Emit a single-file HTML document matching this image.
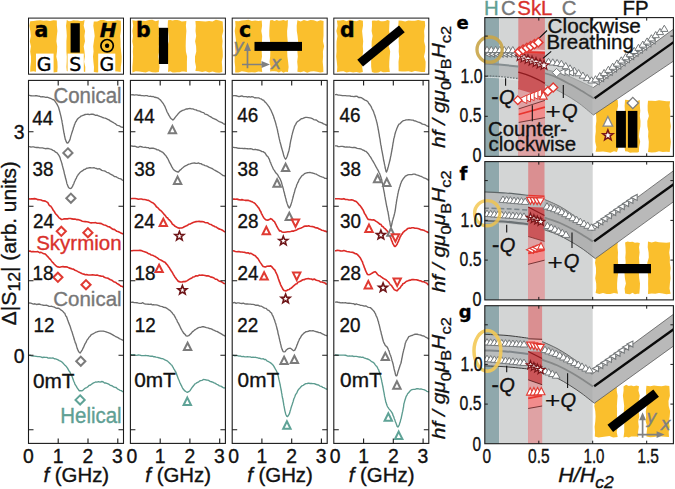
<!DOCTYPE html>
<html><head><meta charset="utf-8"><title>figure</title>
<style>html,body{margin:0;padding:0;background:#fff}svg{display:block}</style></head>
<body><svg width="675" height="489" viewBox="0 0 675 489">
<rect width="675" height="489" fill="#fff"/>
<path d="M30.2 21.2L33.5 21.1L36.9 20.5L40.2 20.2L43.5 20.7L46.8 20.5L50.1 21.1L53.5 20.3L56.8 20.6L56.9 25.7L57.4 30.9L56.8 36.0L56.4 41.2L57.2 46.3L57.0 51.4L56.3 56.6L57.4 61.7L57.6 66.9L57.3 72.0L53.5 72.6L50.1 71.6L46.8 72.3L43.5 72.6L40.2 72.3L36.8 71.9L33.5 71.3L30.2 71.8L30.4 66.9L31.0 61.7L31.0 56.6L30.2 51.4L30.9 46.3L29.8 41.2L30.8 36.0L30.3 30.9L29.4 25.7Z" fill="#fabf2d"/>
<path d="M66.8 20.0L69.0 21.2L71.2 21.1L73.5 20.2L75.7 20.6L77.9 20.6L80.1 20.9L82.4 21.1L84.6 20.0L83.7 25.7L85.1 30.9L84.4 36.0L85.0 41.2L83.7 46.3L84.5 51.4L84.9 56.6L84.1 61.7L85.3 66.9L85.2 72.0L82.4 71.2L80.1 71.1L77.9 72.0L75.7 72.7L73.5 71.7L71.2 71.5L69.0 71.8L66.8 71.1L66.4 66.9L66.7 61.7L66.8 56.6L66.4 51.4L66.4 46.3L66.4 41.2L66.8 36.0L66.5 30.9L66.0 25.7Z" fill="#fabf2d"/>
<path d="M93.8 21.4L97.2 21.4L100.5 19.9L103.9 19.9L107.3 21.2L110.7 21.1L114.0 20.9L117.4 20.3L120.8 20.8L120.9 25.7L120.9 30.9L120.2 36.0L120.6 41.2L120.6 46.3L121.1 51.4L121.6 56.6L121.5 61.7L120.8 66.9L120.7 72.0L117.4 71.6L114.0 71.2L110.7 71.1L107.3 71.9L103.9 71.6L100.5 71.7L97.2 72.6L93.8 72.0L94.0 66.9L93.4 61.7L93.0 56.6L93.6 51.4L93.2 46.3L93.9 41.2L94.7 36.0L94.1 30.9L93.3 25.7Z" fill="#fabf2d"/>
<path d="M132.4 20.2L135.7 20.7L139.0 20.4L142.3 20.8L145.7 20.9L149.0 19.9L152.3 19.8L155.6 21.2L158.9 20.2L158.4 25.7L159.7 30.9L158.8 36.0L159.4 41.2L158.8 46.3L159.1 51.4L158.3 56.6L159.1 61.7L159.5 66.9L158.9 72.0L155.6 72.4L152.3 72.2L149.0 71.2L145.7 72.4L142.3 72.1L139.0 71.6L135.7 71.2L132.4 72.6L132.4 66.9L132.8 61.7L133.1 56.6L132.8 51.4L133.2 46.3L132.3 41.2L133.0 36.0L132.4 30.9L133.2 25.7Z" fill="#fabf2d"/>
<path d="M168.0 20.2L170.3 20.0L172.6 20.5L174.9 20.1L177.2 19.9L179.5 20.5L181.8 21.4L184.1 21.2L186.4 21.1L185.9 25.7L186.4 30.9L186.0 36.0L185.8 41.2L185.7 46.3L185.9 51.4L187.1 56.6L186.9 61.7L186.9 66.9L186.9 72.0L184.1 71.4L181.8 71.6L179.5 72.2L177.2 72.3L174.9 72.6L172.6 72.6L170.3 71.2L168.0 72.1L168.3 66.9L168.1 61.7L167.5 56.6L168.0 51.4L167.4 46.3L168.8 41.2L168.7 36.0L168.1 30.9L167.7 25.7Z" fill="#fabf2d"/>
<path d="M195.4 20.9L198.8 21.1L202.2 21.2L205.6 21.4L209.1 21.1L212.5 21.4L215.9 19.8L219.3 20.6L222.7 21.4L222.9 25.7L223.3 30.9L222.0 36.0L222.6 41.2L222.2 46.3L222.7 51.4L222.8 56.6L221.8 61.7L222.2 66.9L222.3 72.0L219.3 72.7L215.9 72.4L212.5 71.4L209.1 72.5L205.6 71.3L202.2 72.1L198.8 71.3L195.4 71.1L196.1 66.9L195.0 61.7L195.0 56.6L196.3 51.4L196.1 46.3L195.1 41.2L196.2 36.0L195.5 30.9L195.8 25.7Z" fill="#fabf2d"/>
<path d="M235.2 21.1L238.5 21.2L241.8 20.6L245.1 20.2L248.4 19.8L251.8 20.9L255.1 20.6L258.4 21.1L261.7 20.4L262.1 25.7L261.3 30.9L262.2 36.0L262.0 41.2L261.5 46.3L261.7 51.4L262.0 56.6L261.1 61.7L261.7 66.9L262.2 72.0L258.4 71.6L255.1 72.5L251.8 72.3L248.4 72.5L245.1 71.7L241.8 71.3L238.5 72.5L235.2 72.5L235.2 66.9L234.6 61.7L234.7 56.6L235.5 51.4L234.9 46.3L236.0 41.2L235.4 36.0L234.7 30.9L235.5 25.7Z" fill="#fabf2d"/>
<path d="M270.0 20.4L272.2 20.1L274.5 20.9L276.7 19.9L278.9 20.7L281.2 20.4L283.4 19.9L285.7 20.7L287.9 19.9L287.7 25.7L287.1 30.9L287.2 36.0L287.7 41.2L288.4 46.3L287.2 51.4L287.4 56.6L288.1 61.7L288.6 66.9L288.0 72.0L285.7 71.8L283.4 72.8L281.2 71.2L278.9 72.6L276.7 71.6L274.5 71.3L272.2 71.3L270.0 71.6L270.6 66.9L269.5 61.7L270.2 56.6L270.3 51.4L269.8 46.3L270.1 41.2L269.3 36.0L269.3 30.9L269.6 25.7Z" fill="#fabf2d"/>
<path d="M297.4 20.2L300.7 21.4L303.9 20.0L307.2 21.0L310.5 19.9L313.8 20.2L317.1 21.5L320.3 20.2L323.6 20.9L323.5 25.7L323.5 30.9L323.5 36.0L323.0 41.2L324.1 46.3L322.9 51.4L323.1 56.6L322.7 61.7L323.2 66.9L323.4 72.0L320.3 72.6L317.1 71.7L313.8 71.3L310.5 71.5L307.2 72.8L303.9 71.2L300.7 72.2L297.4 71.7L297.7 66.9L297.2 61.7L297.8 56.6L297.4 51.4L297.7 46.3L298.1 41.2L297.6 36.0L296.8 30.9L296.7 25.7Z" fill="#fabf2d"/>
<path d="M336.9 20.6L340.1 20.4L343.4 20.0L346.6 21.3L349.9 19.8L353.1 20.7L356.4 21.3L359.6 19.9L362.9 20.7L363.0 25.7L362.1 30.9L362.6 36.0L363.2 41.2L362.8 46.3L363.2 51.4L362.3 56.6L362.4 61.7L362.2 66.9L362.9 72.0L359.6 72.7L356.4 72.1L353.1 72.4L349.9 71.8L346.6 72.4L343.4 71.3L340.1 71.6L336.9 72.2L337.3 66.9L336.8 61.7L336.2 56.6L336.6 51.4L336.5 46.3L336.6 41.2L337.5 36.0L336.4 30.9L337.6 25.7Z" fill="#fabf2d"/>
<path d="M371.9 20.8L374.1 20.5L376.3 20.8L378.5 20.2L380.8 21.2L383.0 21.2L385.2 20.9L387.4 20.1L389.6 20.7L389.3 25.7L389.1 30.9L390.3 36.0L390.4 41.2L388.8 46.3L390.2 51.4L389.7 56.6L389.3 61.7L389.2 66.9L389.8 72.0L387.4 71.9L385.2 72.3L383.0 72.2L380.8 71.3L378.5 72.4L376.3 72.8L374.1 72.7L371.9 72.1L371.2 66.9L371.1 61.7L371.3 56.6L372.7 51.4L371.6 46.3L371.7 41.2L372.6 36.0L371.6 30.9L372.0 25.7Z" fill="#fabf2d"/>
<path d="M398.6 20.6L401.9 20.8L405.2 21.4L408.4 20.6L411.7 20.7L415.0 20.8L418.2 20.1L421.5 20.7L424.8 20.9L425.2 25.7L424.1 30.9L424.4 36.0L424.1 41.2L425.3 46.3L425.1 51.4L424.0 56.6L425.6 61.7L425.5 66.9L425.0 72.0L421.5 72.1L418.2 71.4L415.0 71.1L411.7 72.0L408.4 71.2L405.2 71.4L401.9 71.5L398.6 71.2L398.6 66.9L398.5 61.7L399.2 56.6L398.7 51.4L398.9 46.3L398.6 41.2L398.9 36.0L398.6 30.9L398.3 25.7Z" fill="#fabf2d"/>
<rect x="70.6" y="23.2" width="9.2" height="29.4" fill="#000"/>
<rect x="36.0" y="53.6" width="17.6" height="20" fill="#fff"/>
<rect x="67.6" y="53.6" width="16.2" height="20" fill="#fff"/>
<rect x="98.2" y="53.6" width="17.1" height="20" fill="#fff"/>
<rect x="158.9" y="27.8" width="9.2" height="36.2" fill="#000"/>
<rect x="254.5" y="41.9" width="47.5" height="9" fill="#000"/>
<rect x="354" y="41.5" width="54" height="9" fill="#000" transform="rotate(-39.4 381 46)"/>
<text x="34.6" y="36.6" style="font-family:'DejaVu Sans',sans-serif;font-size:20.5px;font-weight:bold" fill="#000" stroke="#000" stroke-width="0.35">a</text>
<text x="136.0" y="36.6" style="font-family:'DejaVu Sans',sans-serif;font-size:20.5px;font-weight:bold" fill="#000" stroke="#000" stroke-width="0.35">b</text>
<text x="239.0" y="36.6" style="font-family:'DejaVu Sans',sans-serif;font-size:20.5px;font-weight:bold" fill="#000" stroke="#000" stroke-width="0.35">c</text>
<text x="340.0" y="36.6" style="font-family:'DejaVu Sans',sans-serif;font-size:20.5px;font-weight:bold" fill="#000" stroke="#000" stroke-width="0.35">d</text>
<text x="44.0" y="70.8" text-anchor="middle" style="font-family:'DejaVu Sans',sans-serif;font-size:19px" fill="#000" stroke="#000" stroke-width="0.35">G</text>
<text x="75.2" y="70.8" text-anchor="middle" style="font-family:'DejaVu Sans',sans-serif;font-size:19px" fill="#000" stroke="#000" stroke-width="0.35">S</text>
<text x="106.8" y="70.8" text-anchor="middle" style="font-family:'DejaVu Sans',sans-serif;font-size:19px" fill="#000" stroke="#000" stroke-width="0.35">G</text>
<text x="108.2" y="37" text-anchor="middle" style="font-family:'DejaVu Sans',sans-serif;font-size:20px;font-weight:bold;font-style:italic" fill="#000" stroke="#000" stroke-width="0.35">H</text>
<circle cx="107.1" cy="45.7" r="6.2" fill="none" stroke="#000" stroke-width="1.7"/><circle cx="107.1" cy="45.7" r="2.2" fill="#000"/>
<path d="M247.5 68.2V49M242 64.5H262" stroke="#808080" stroke-width="1.7" fill="none"/>
<path d="M247.5 42.6L251 51H244ZM270 64.5L261.5 61V68Z" fill="#808080"/>
<text x="233.6" y="52.3" style="font-family:'DejaVu Sans',sans-serif;font-size:18px;font-style:italic" fill="#808080" stroke="#808080" stroke-width="0.35">y</text>
<text x="270.8" y="69.2" style="font-family:'DejaVu Sans',sans-serif;font-size:18px;font-style:italic" fill="#808080" stroke="#808080" stroke-width="0.35">x</text>
<rect x="28.5" y="18.1" width="95.0" height="56.1" fill="none" stroke="#1a1a1a" stroke-width="1"/>
<rect x="130.4" y="18.1" width="95.0" height="56.1" fill="none" stroke="#1a1a1a" stroke-width="1"/>
<rect x="232.2" y="18.1" width="95.0" height="56.1" fill="none" stroke="#1a1a1a" stroke-width="1"/>
<rect x="333.8" y="18.1" width="95.0" height="56.1" fill="none" stroke="#1a1a1a" stroke-width="1"/>
<g fill="none" stroke-width="1.35" stroke-linejoin="round">
<path d="M29.0 95.30L29.8 95.46L30.9 95.78L32.2 95.81L33.6 95.88L35.1 95.77L36.6 95.56L38.1 96.12L39.6 96.25L40.8 96.92L42.5 96.70L44.1 96.92L45.7 97.35L47.1 97.20L48.5 97.55L49.7 98.07L51.3 98.73L52.6 99.49L53.8 99.72L54.9 100.96L55.7 102.37L56.5 103.42L57.2 104.65L57.9 105.98L58.6 107.53L59.0 108.98L59.3 110.03L59.7 111.49L60.0 112.58L60.3 113.87L60.7 115.39L61.0 116.72L61.3 117.99L61.6 119.73L61.9 120.36L62.1 122.42L62.4 123.60L62.6 125.21L62.9 126.50L63.1 127.79L63.3 129.24L63.6 130.79L63.8 132.03L64.0 133.26L64.2 133.91L64.6 136.00L65.0 137.82L65.3 139.33L65.7 140.13L66.0 141.16L66.9 142.85L67.8 143.05L68.7 142.04L69.7 140.18L70.1 138.97L70.5 137.31L70.9 135.89L71.4 134.39L71.9 132.66L72.3 131.50L72.7 130.30L73.1 129.24L73.5 127.33L74.0 126.59L74.4 124.89L74.9 123.85L75.6 122.04L76.3 121.26L77.0 119.79L77.8 118.78L78.6 118.05L79.7 117.25L81.0 116.13L82.3 115.72L83.8 115.02L85.1 114.50L86.5 114.32L88.0 114.24L89.6 114.55L91.2 114.10L92.6 114.22L94.0 114.46L95.5 115.36L97.0 115.07L98.5 115.78L100.0 116.43L101.3 116.87L102.6 117.50L103.8 117.90L105.1 118.19L106.4 118.71L107.7 119.29L109.0 119.91L110.3 120.87L111.7 121.67L113.0 122.27L114.4 123.25L115.6 123.91L116.8 125.08L117.9 125.46L119.6 125.94L121.0 126.89L122.2 127.23L123.0 127.48" stroke="#6e6e6e"/>
<path d="M29.0 146.70L29.8 146.67L30.9 147.06L32.2 146.86L33.6 146.81L35.1 147.33L36.6 147.50L38.1 147.45L39.6 147.86L40.8 147.86L42.5 147.86L44.1 148.29L45.6 148.72L47.1 148.35L48.4 148.52L49.7 148.97L51.4 149.47L53.0 150.31L54.4 150.98L55.6 152.14L56.7 152.54L57.6 153.62L58.5 154.77L59.3 156.14L59.8 157.05L60.2 158.18L60.6 159.77L61.1 160.94L61.5 162.35L61.9 163.52L62.3 165.23L62.6 166.32L63.0 167.90L63.3 169.00L63.7 170.37L64.0 171.53L64.4 173.67L64.7 174.59L65.0 175.76L65.3 177.03L65.7 178.81L66.1 179.92L66.4 181.17L66.8 183.14L67.1 184.01L67.5 184.96L68.3 187.04L69.2 188.07L70.1 188.49L71.4 188.05L72.7 186.15L73.2 184.71L73.8 183.81L74.4 181.83L75.0 180.70L75.6 179.20L76.3 178.40L76.9 176.59L77.6 175.57L78.4 174.33L79.3 173.44L80.3 172.20L81.5 171.29L82.7 170.66L84.0 169.49L85.3 169.35L86.6 168.23L88.0 168.20L89.5 167.68L91.0 167.78L92.7 167.81L93.9 167.71L95.1 168.10L96.4 168.49L97.8 169.09L99.1 168.64L100.5 169.39L101.8 170.34L103.0 170.63L104.3 170.89L105.6 171.44L106.8 172.28L108.0 172.67L109.2 173.18L110.5 174.24L111.9 174.87L113.1 175.40L114.4 176.56L115.8 176.60L117.3 177.53L118.7 178.30L120.0 178.68L121.2 179.10L122.2 180.10L123.0 180.49" stroke="#6e6e6e"/>
<path d="M29.0 198.70L30.0 198.95L31.4 198.90L33.0 198.84L34.7 198.65L36.4 198.97L37.9 199.65L39.5 199.79L41.1 200.03L42.6 200.72L44.0 200.88L45.3 201.09L46.6 201.91L47.7 202.47L48.7 204.41L49.7 205.67L50.6 205.94L51.5 207.33L52.4 208.60L53.3 210.44L54.1 211.21L55.1 213.00L56.0 214.28L57.0 215.20L57.9 216.30L59.1 217.88L60.2 218.54L61.6 219.51L62.9 219.28L64.3 218.84L65.9 218.73L67.5 218.90L68.9 218.57L70.4 218.54L71.9 218.85L73.4 219.13L74.9 219.09L76.4 219.58L77.9 219.54L79.4 220.09L80.9 220.61L82.3 221.20L83.8 221.43L85.2 221.60L86.7 221.83L88.2 222.04L89.6 222.53L91.1 222.85L92.6 222.68L94.1 222.76L95.6 222.62L97.1 223.24L98.6 223.20L100.0 223.41L101.5 223.65L103.0 224.60L104.2 224.99L105.5 225.20L106.7 225.85L107.9 226.72L109.2 226.72L110.4 227.47L111.7 228.52L113.0 229.35L114.3 229.39L115.6 230.39L116.8 231.23L117.9 231.56L119.5 232.19L120.9 233.10L122.1 233.60L123.0 234.01" stroke="#dc2b27" stroke-width="1.6"/>
<path d="M29.0 251.10L30.0 251.09L31.4 251.70L33.0 251.45L34.7 251.75L36.4 251.79L37.9 251.67L39.5 252.61L41.1 252.40L42.6 253.16L44.0 253.64L45.3 254.09L46.5 255.31L47.5 256.45L48.5 257.38L49.5 258.78L50.4 259.41L51.4 260.87L52.3 262.03L53.2 262.83L54.1 263.98L54.9 264.79L56.4 266.25L57.9 266.89L59.6 267.19L61.6 266.76L62.9 266.62L64.4 266.84L66.0 266.75L67.5 267.13L68.9 267.87L70.4 268.37L71.8 268.85L73.4 269.14L74.6 269.98L75.8 270.60L77.1 271.12L78.4 271.88L79.6 272.31L80.8 273.12L82.3 273.67L83.8 274.11L85.2 274.68L86.7 274.57L88.1 275.04L89.5 275.05L91.0 274.93L92.5 274.68L94.1 274.92L95.5 275.18L97.0 275.03L98.5 275.57L100.1 275.88L101.6 276.19L103.0 276.23L104.3 277.27L105.6 277.69L106.8 277.95L108.0 278.28L109.2 279.02L110.4 279.70L111.7 280.11L113.0 281.16L114.3 281.96L115.6 282.21L116.8 283.42L117.9 284.03L119.5 284.99L120.9 286.17L122.1 286.27L123.0 287.35" stroke="#dc2b27" stroke-width="1.6"/>
<path d="M29.0 303.10L29.8 303.02L30.8 303.14L32.1 303.61L33.4 304.06L34.9 303.78L36.4 304.46L37.9 304.22L39.4 304.03L40.8 304.61L42.1 304.84L43.5 305.28L44.9 305.36L46.3 305.27L47.7 305.70L49.1 306.39L50.4 306.39L51.6 306.29L52.7 306.68L54.2 306.99L55.6 307.92L56.9 308.25L58.0 308.20L59.1 308.47L60.1 309.21L61.2 310.11L62.2 310.71L63.1 311.64L64.0 312.69L64.8 313.34L65.4 314.96L66.0 316.21L66.6 316.82L67.1 318.27L67.6 319.80L68.2 321.33L68.6 322.62L69.1 323.66L69.6 325.12L70.0 325.86L70.5 327.43L71.0 329.12L71.4 330.53L71.9 331.51L72.3 332.90L72.7 334.22L73.2 335.80L73.6 336.90L74.0 338.54L74.5 340.29L74.9 341.05L75.2 342.66L75.6 343.07L76.2 344.76L76.7 346.68L77.2 348.37L77.7 349.59L78.1 350.62L79.1 352.23L80.1 353.04L81.1 351.65L82.3 349.83L82.8 348.66L83.4 347.67L84.0 346.26L84.6 344.78L85.3 343.43L86.0 342.39L86.7 340.76L87.4 339.53L88.2 338.80L89.0 337.24L89.9 336.56L90.8 335.16L91.8 334.43L92.9 333.93L94.1 333.23L95.4 332.47L96.9 331.94L98.5 331.30L100.1 331.11L101.6 331.19L103.1 331.05L104.6 331.45L106.0 331.79L107.5 332.42L109.0 332.98L110.2 333.32L111.5 334.13L112.8 334.87L114.0 335.55L115.2 336.30L116.4 336.90L117.9 337.55L119.4 338.63L120.9 339.25L122.1 339.83L123.0 340.38" stroke="#6e6e6e"/>
<path d="M29.0 355.40L30.0 355.20L31.3 355.92L32.8 356.06L34.5 356.20L36.2 356.42L37.9 356.69L39.3 356.63L40.8 356.87L42.4 357.52L43.9 357.27L45.4 357.40L46.9 357.41L48.2 358.07L49.9 358.04L51.4 358.12L52.9 357.95L54.3 358.73L55.6 358.85L56.9 359.38L58.1 359.92L59.3 360.60L60.5 361.07L61.6 361.81L62.7 362.79L63.7 363.90L64.7 365.03L65.7 365.85L66.7 367.05L67.5 368.12L68.3 369.60L69.0 370.93L69.8 371.75L70.5 373.50L71.2 374.69L71.8 375.74L72.3 377.02L72.9 378.82L73.4 380.28L73.9 381.54L74.4 382.54L74.9 384.02L75.7 385.26L76.5 386.61L77.2 387.88L77.9 388.86L79.3 390.75L80.8 390.55L81.9 390.84L83.2 389.97L84.5 388.65L85.6 387.97L86.7 387.54L87.8 386.85L89.0 385.44L90.2 385.24L91.5 384.19L92.7 383.33L94.1 382.73L95.5 381.97L97.0 382.06L98.5 381.63L100.1 382.08L101.5 381.54L103.0 381.75L104.5 382.98L106.0 383.04L107.5 383.61L108.7 384.15L109.9 385.07L111.2 385.51L112.4 385.99L113.6 386.95L114.9 387.30L116.1 387.50L117.4 388.88L118.7 389.49L120.1 390.31L121.3 390.59L122.3 391.49L123.0 391.61" stroke="#5b9b8f"/>
</g>
<g fill="none" stroke-width="1.35" stroke-linejoin="round">
<path d="M131.0 94.60L131.8 94.82L132.9 94.68L134.1 95.15L135.5 94.80L137.0 94.82L138.5 95.28L140.0 95.26L141.5 95.55L142.8 95.65L144.2 95.91L145.6 95.57L147.0 95.68L148.3 96.12L149.6 96.40L150.9 96.28L152.1 96.62L153.2 96.50L154.8 97.29L156.3 97.53L157.6 97.88L158.8 98.67L159.9 99.48L160.9 100.55L161.9 101.83L162.7 102.83L163.5 103.96L164.3 105.46L165.0 106.62L165.6 108.29L166.2 109.47L166.8 111.22L167.4 112.58L168.0 113.40L168.8 115.17L169.6 116.30L170.3 117.73L171.0 118.43L172.9 120.10L174.0 118.98L175.4 117.18L176.2 116.19L177.1 115.06L178.1 113.82L179.1 112.82L180.2 111.67L181.3 111.22L182.4 110.39L183.6 110.16L184.8 109.62L186.0 109.02L187.2 108.98L188.7 108.62L190.0 108.46L191.4 108.88L192.9 108.95L194.5 109.59L196.1 109.85L197.3 110.64L198.5 110.86L199.8 111.15L201.1 111.98L202.4 112.41L203.7 112.64L205.0 114.10L206.3 114.33L207.5 114.77L208.7 115.75L209.9 116.45L211.2 117.15L212.5 118.01L213.9 118.61L215.1 119.25L216.4 119.68L217.8 120.73L219.3 121.56L220.7 122.09L222.0 122.60L223.2 123.48L224.2 124.09L225.0 124.22" stroke="#6e6e6e"/>
<path d="M131.0 146.20L131.8 145.81L132.9 146.30L134.1 146.24L135.5 146.31L137.0 147.11L138.5 147.23L140.0 146.45L141.5 146.76L142.8 147.16L144.2 147.41L145.6 147.28L146.9 147.70L148.3 147.66L149.6 148.55L150.8 148.26L152.1 148.09L153.2 148.26L154.6 148.58L156.0 149.08L157.2 149.90L158.4 149.85L159.5 150.76L160.6 151.15L161.8 151.96L162.9 152.44L163.9 153.48L164.9 154.72L165.8 155.53L166.6 156.98L167.4 157.98L168.1 159.29L168.8 160.79L169.5 162.41L170.2 163.52L171.0 165.07L171.7 166.60L172.5 167.85L173.2 169.10L174.5 170.45L175.7 171.09L176.9 171.77L178.4 171.97L179.9 170.20L180.9 169.65L181.9 168.44L183.1 167.53L184.3 166.55L185.4 165.82L186.6 165.30L187.8 164.68L189.0 164.19L190.2 163.94L191.6 163.40L193.0 163.05L194.4 163.01L196.1 163.31L197.2 163.37L198.4 162.98L199.7 163.60L201.0 163.65L202.4 164.58L203.7 164.96L205.0 165.56L206.3 165.92L207.5 166.37L208.7 167.07L209.9 167.58L211.2 168.23L212.5 168.75L213.9 169.71L215.1 170.41L216.4 171.14L217.8 171.93L219.3 172.73L220.7 173.81L222.0 174.73L223.2 175.60L224.2 175.65L225.0 176.36" stroke="#6e6e6e"/>
<path d="M131.0 198.70L132.0 198.46L133.4 198.45L135.0 198.49L136.7 198.69L138.4 199.25L139.9 199.03L141.5 199.02L143.0 199.44L144.5 199.57L145.9 199.83L147.3 200.23L148.6 200.41L149.8 201.11L151.0 201.92L152.1 202.57L153.2 203.00L154.4 204.06L155.4 205.21L156.4 206.75L157.6 207.57L158.5 208.56L159.5 209.72L160.5 210.33L161.5 211.29L162.6 212.55L163.6 213.69L164.6 214.86L165.6 216.11L166.6 217.40L167.6 217.84L168.6 219.54L169.5 220.02L170.5 221.36L171.3 222.08L172.2 223.92L173.0 224.55L173.9 225.08L175.1 226.33L176.4 226.90L177.8 227.83L179.1 228.13L180.4 227.93L181.7 227.95L183.0 227.42L184.3 226.73L185.4 226.26L186.5 225.83L187.7 225.26L188.9 224.21L190.2 224.06L191.6 223.18L193.1 222.56L194.6 222.04L196.1 221.62L197.6 221.54L199.1 221.38L200.6 221.59L202.0 221.66L203.5 221.83L205.0 222.41L206.2 222.81L207.5 222.70L208.7 223.60L209.9 224.21L211.2 224.52L212.4 225.46L213.7 225.90L215.0 226.73L216.3 227.06L217.6 228.03L218.8 228.85L219.9 229.12L221.5 229.82L222.9 230.54L224.1 231.41L225.0 232.03" stroke="#dc2b27" stroke-width="1.6"/>
<path d="M131.0 250.70L132.0 250.75L133.4 250.56L135.0 250.43L136.7 250.49L138.4 250.47L139.9 250.36L141.5 250.60L143.0 251.34L144.5 251.75L145.9 252.21L147.3 252.84L148.7 253.81L150.0 254.02L151.3 255.05L152.6 255.28L153.9 255.89L155.2 256.41L156.4 257.40L157.6 258.01L158.8 259.16L159.9 259.64L161.2 260.24L162.5 260.92L163.7 261.78L165.0 262.27L165.9 263.37L166.8 264.43L167.6 265.21L168.5 266.79L169.4 267.86L170.2 269.25L171.0 270.54L171.8 271.67L172.5 272.77L173.3 274.40L174.0 275.45L174.7 276.71L175.7 277.98L176.6 279.24L177.5 280.35L178.4 281.36L180.2 281.87L182.1 281.98L183.3 281.62L184.6 281.64L185.9 281.40L187.3 280.61L188.4 279.87L189.5 279.15L190.7 278.52L191.9 277.93L193.2 276.96L194.6 276.70L196.1 275.71L197.6 276.01L199.1 275.16L200.6 275.21L202.1 275.15L203.6 275.33L205.0 275.55L206.5 275.84L208.0 275.78L209.2 276.19L210.4 276.92L211.6 277.12L212.8 277.50L214.0 278.00L215.4 279.23L216.6 279.20L217.9 280.23L219.3 281.15L220.7 281.57L222.0 282.11L223.2 282.92L224.2 283.41L225.0 283.77" stroke="#dc2b27" stroke-width="1.6"/>
<path d="M131.0 302.20L131.8 302.37L132.8 302.04L134.1 302.64L135.4 302.62L136.9 302.71L138.4 303.19L139.9 303.30L141.4 303.33L142.8 302.73L144.1 303.59L145.5 304.18L146.9 304.07L148.2 304.22L149.6 304.43L151.0 304.03L152.3 304.87L153.5 304.73L154.7 304.84L156.1 304.91L157.5 305.16L158.8 305.55L160.1 306.07L161.3 306.44L162.5 306.68L163.6 307.31L165.1 307.47L166.5 308.11L167.8 309.03L169.0 309.88L170.2 310.66L171.2 311.75L172.1 312.68L172.9 313.99L173.8 314.68L174.6 316.20L175.4 317.58L176.1 319.09L176.8 319.85L177.4 321.89L178.1 322.70L178.7 323.92L179.3 325.09L179.9 326.28L180.7 328.22L181.4 329.34L182.2 330.78L182.9 331.83L183.6 333.13L184.9 334.27L186.1 335.77L187.3 336.16L188.7 335.72L190.2 334.18L191.2 333.38L192.3 331.89L193.4 331.13L194.7 329.91L195.8 329.31L196.9 328.56L198.1 327.86L199.3 327.44L200.6 327.41L202.0 326.76L203.4 326.76L204.9 327.08L206.4 327.56L208.0 327.84L209.2 328.53L210.5 328.55L211.8 329.07L213.1 329.80L214.4 330.45L215.7 331.04L216.9 331.37L218.2 332.12L219.5 332.94L220.9 333.70L222.1 334.39L223.3 335.24L224.3 335.69L225.0 336.05" stroke="#6e6e6e"/>
<path d="M131.0 354.70L131.8 354.73L132.8 354.85L134.1 354.67L135.4 355.06L136.9 355.36L138.4 354.92L139.9 355.09L141.4 355.64L142.8 355.63L144.1 355.56L145.5 355.52L146.9 355.56L148.2 355.71L149.6 356.10L151.0 356.28L152.3 356.12L153.5 356.72L154.7 356.76L156.1 357.10L157.5 357.33L158.8 357.74L160.1 358.13L161.3 358.50L162.5 358.63L163.6 359.02L164.9 359.95L166.0 360.32L167.2 360.86L168.2 361.84L169.2 362.66L170.2 363.65L171.1 364.65L171.9 365.30L172.6 366.59L173.3 367.71L174.0 369.10L174.7 370.04L175.3 371.41L175.8 372.04L176.4 373.46L176.9 375.13L177.4 376.30L178.0 377.99L178.5 379.31L179.1 380.34L179.7 382.19L180.4 383.58L181.1 385.18L181.7 386.15L182.4 387.77L183.0 388.80L183.6 389.48L184.9 390.93L186.2 391.77L187.3 392.43L188.7 391.70L190.2 390.43L191.0 389.24L191.8 387.86L192.7 386.78L193.7 385.55L194.7 384.11L195.8 383.46L197.0 382.63L198.2 382.16L199.4 381.17L200.6 380.60L202.0 380.35L203.4 379.51L204.8 379.69L206.5 380.01L207.6 380.18L208.8 380.48L210.1 381.38L211.4 381.75L212.7 382.09L214.1 382.87L215.4 383.34L216.6 384.25L218.0 384.83L219.4 385.86L220.8 386.08L222.1 386.91L223.3 387.80L224.3 387.88L225.0 388.22" stroke="#5b9b8f"/>
</g>
<g fill="none" stroke-width="1.35" stroke-linejoin="round">
<path d="M233.0 95.80L233.8 95.60L234.8 95.63L236.1 95.75L237.4 96.09L238.9 96.58L240.4 96.26L241.9 95.81L243.4 96.65L244.8 96.55L246.2 96.63L247.6 97.03L249.0 96.70L250.4 97.18L251.8 96.72L253.2 96.94L254.5 97.80L255.6 97.74L256.7 97.84L258.6 97.86L260.0 98.51L261.3 98.98L262.6 100.09L263.6 100.18L264.6 101.62L265.6 102.41L266.6 103.63L267.6 104.83L268.5 106.13L269.2 106.99L269.9 108.42L270.6 109.54L271.2 110.84L271.8 112.17L272.4 113.55L273.0 115.15L273.5 116.04L273.9 117.85L274.3 118.63L274.7 119.99L275.2 121.52L275.6 122.89L275.9 124.01L276.3 125.65L276.7 126.98L277.0 128.14L277.3 129.20L277.6 130.93L277.9 132.47L278.2 133.44L278.5 135.14L278.8 136.53L279.1 137.91L279.3 138.96L279.6 140.17L280.0 141.91L280.4 143.31L280.8 144.62L281.2 146.27L281.5 147.57L281.9 148.72L282.2 149.87L282.7 151.55L283.2 153.29L283.6 154.96L284.0 156.20L284.8 158.01L285.6 159.23L286.4 158.05L287.2 156.24L287.6 155.05L288.0 153.38L288.5 152.12L289.0 150.21L289.2 149.28L289.5 147.66L289.8 146.48L290.0 144.72L290.3 143.06L290.6 141.38L290.9 139.93L291.2 138.83L291.5 137.61L291.8 135.67L292.2 134.39L292.5 133.19L292.9 131.67L293.2 130.62L293.6 129.11L294.0 128.21L294.4 126.66L295.1 125.30L295.7 124.36L296.4 122.87L297.2 121.83L298.1 121.17L299.2 120.52L300.3 119.60L301.6 118.57L302.9 118.48L304.1 117.95L305.5 117.35L306.9 117.43L308.3 117.57L310.0 117.86L311.1 118.07L312.3 118.52L313.6 119.55L315.0 119.82L316.3 120.04L317.6 121.08L318.9 121.83L320.4 122.34L322.0 122.87L323.5 123.91L324.9 124.29L326.1 125.11L327.0 125.01" stroke="#6e6e6e"/>
<path d="M233.0 147.40L233.8 147.35L234.8 147.57L236.1 147.69L237.4 148.01L238.9 148.29L240.4 148.32L241.9 148.42L243.4 148.54L244.8 148.29L246.1 148.68L247.5 148.78L248.9 148.94L250.3 148.67L251.7 148.91L253.1 149.60L254.4 149.52L255.6 149.30L256.7 149.75L258.2 150.02L259.6 150.37L260.8 150.95L262.0 151.64L263.1 151.58L264.1 152.44L265.2 153.09L266.2 155.03L267.1 156.09L268.0 156.71L268.8 158.53L269.4 159.31L270.0 161.54L270.6 162.53L271.1 164.02L271.7 165.49L272.2 166.53L273.0 168.33L273.7 169.68L274.5 170.60L275.2 171.89L276.2 173.27L277.1 174.08L278.1 175.48L278.7 176.93L279.3 177.71L279.9 178.57L280.5 179.98L281.1 181.34L281.5 182.52L281.9 184.10L282.2 185.08L282.6 186.34L283.0 187.74L283.4 189.19L283.7 190.68L284.1 191.99L284.5 193.46L284.8 195.32L285.2 196.34L285.6 198.01L286.0 199.20L286.3 201.02L286.7 201.98L287.0 203.13L287.8 205.37L288.6 207.19L289.3 208.08L290.0 206.91L290.8 205.12L291.5 202.88L291.9 201.66L292.2 200.36L292.6 198.94L292.9 197.75L293.3 196.28L293.7 194.45L294.1 193.30L294.5 191.99L294.9 190.32L295.3 188.80L295.8 187.76L296.2 187.02L296.7 184.96L297.3 183.72L297.8 182.45L298.4 181.71L299.0 179.90L299.7 178.79L300.4 177.79L301.3 176.55L302.3 175.37L303.4 174.94L304.5 173.55L305.6 173.23L307.0 172.78L308.4 172.57L309.9 172.39L311.5 172.89L312.6 173.01L313.8 173.45L315.1 173.96L316.3 174.17L317.6 174.97L318.9 175.68L320.3 176.28L321.8 176.83L323.4 177.29L324.9 178.42L326.1 178.33L327.0 178.66" stroke="#6e6e6e"/>
<path d="M233.0 199.10L234.0 198.97L235.4 199.22L237.0 199.11L238.7 199.63L240.4 199.94L241.9 199.62L243.5 200.04L245.1 200.33L246.6 200.36L248.0 200.27L249.3 200.80L250.8 201.35L252.0 201.65L253.2 202.34L254.4 202.97L255.4 203.89L256.3 205.13L257.2 206.02L258.1 207.35L258.9 208.07L259.6 209.58L260.2 210.91L260.8 211.55L261.3 213.34L261.9 214.22L262.6 215.60L263.4 217.02L264.1 218.22L264.8 218.89L266.3 220.06L267.8 220.13L269.2 219.62L270.7 218.62L272.2 219.47L273.7 221.16L274.5 221.68L275.2 223.03L276.0 224.56L276.7 226.30L277.4 227.28L278.1 228.66L278.8 229.51L279.6 231.07L280.7 230.91L282.0 231.93L283.3 232.27L284.7 232.27L286.3 231.99L287.8 231.78L289.3 231.80L290.7 231.50L292.2 231.09L293.7 231.09L295.2 230.36L296.7 229.96L298.1 229.00L299.5 228.48L301.1 228.03L302.5 227.39L304.0 226.37L305.5 226.12L307.0 226.17L308.5 225.76L309.9 226.27L311.4 226.55L313.0 226.63L314.2 227.08L315.4 227.71L316.7 227.85L317.9 228.11L319.2 229.09L320.4 229.37L321.9 230.19L323.4 230.56L324.9 231.15L326.1 231.37L327.0 232.24" stroke="#dc2b27" stroke-width="1.6"/>
<path d="M233.0 251.10L234.0 250.84L235.3 251.50L236.9 251.72L238.6 251.58L240.3 251.88L241.9 251.99L243.4 252.28L245.0 252.38L246.5 252.93L248.0 252.68L249.4 253.73L250.7 253.31L252.3 254.12L253.6 254.96L254.7 255.42L255.9 256.42L256.9 257.70L257.8 258.43L258.7 259.82L259.6 261.37L260.4 262.62L261.3 263.89L262.2 265.28L263.0 266.36L263.8 266.60L265.4 266.97L267.0 266.31L268.8 266.17L270.7 265.84L271.9 266.86L273.0 268.15L274.1 269.44L274.8 269.86L275.4 271.36L276.1 272.82L276.8 274.26L277.4 275.55L277.9 277.24L278.4 278.83L278.9 280.10L279.4 281.78L279.9 282.50L280.4 284.32L281.1 285.76L281.7 286.82L282.4 288.06L283.0 289.42L284.2 290.56L285.6 290.89L286.7 290.61L288.0 289.76L289.3 289.44L290.4 288.40L291.5 287.94L292.6 286.92L293.7 285.79L294.8 284.93L295.8 283.99L296.9 283.68L298.1 281.99L299.2 281.71L300.4 281.29L301.6 280.47L302.9 279.69L304.1 279.67L305.5 279.04L307.0 278.75L308.4 278.56L310.0 279.04L311.3 278.98L312.7 279.74L314.2 279.02L315.8 280.00L317.4 280.53L318.7 280.71L320.3 281.83L321.9 281.95L323.4 282.53L324.9 282.91L326.1 284.05L327.0 283.98" stroke="#dc2b27" stroke-width="1.6"/>
<path d="M233.0 302.70L233.8 302.74L234.8 302.43L236.1 303.40L237.4 302.95L238.9 302.90L240.4 303.42L241.9 303.49L243.4 303.21L244.8 303.86L246.1 304.02L247.5 303.98L248.9 304.11L250.3 304.10L251.7 304.40L253.0 304.36L254.3 304.57L255.5 305.22L256.7 305.06L258.3 305.29L259.8 306.11L261.1 306.19L262.4 306.75L263.6 307.59L264.8 308.16L266.2 308.44L267.4 309.89L268.6 310.37L269.7 311.35L270.7 312.48L271.5 312.95L272.1 314.57L272.7 315.59L273.3 316.89L273.8 318.32L274.4 319.85L274.8 320.83L275.2 322.43L275.6 323.24L276.0 324.59L276.3 325.89L276.7 327.14L277.0 328.82L277.4 330.08L277.7 330.94L278.0 333.10L278.3 334.20L278.7 335.64L279.0 336.85L279.3 338.52L279.6 339.53L279.8 340.69L280.1 341.70L280.5 343.69L281.0 345.34L281.3 347.19L281.7 348.09L282.1 349.37L283.1 351.59L284.1 351.80L285.2 351.68L286.3 349.96L287.6 348.90L289.0 348.31L290.3 348.22L291.5 349.02L292.6 349.98L293.7 350.72L294.8 350.13L295.9 347.84L296.3 347.01L296.8 345.45L297.3 344.39L297.8 343.07L298.4 341.50L298.9 340.51L299.6 338.72L300.3 337.86L301.0 336.65L301.8 335.20L302.6 334.62L303.6 333.29L304.7 332.67L305.8 331.77L307.0 331.59L308.4 331.25L309.8 330.73L311.4 330.81L313.0 330.64L314.4 331.11L315.9 331.54L317.4 331.98L318.9 332.68L320.4 332.65L321.9 333.72L323.4 334.28L324.9 335.16L326.1 335.46L327.0 335.96" stroke="#6e6e6e"/>
<path d="M233.0 355.40L233.8 355.44L234.8 355.78L236.1 355.55L237.4 355.65L238.9 356.12L240.4 356.02L241.9 356.55L243.4 356.41L244.8 356.81L246.1 356.88L247.5 356.75L248.9 356.92L250.2 356.82L251.6 357.30L253.0 357.14L254.3 357.35L255.5 357.29L256.7 357.61L258.1 357.97L259.5 358.22L260.8 358.72L262.1 358.92L263.3 358.77L264.5 359.64L265.6 359.39L266.9 360.85L268.0 361.35L269.2 361.98L270.2 362.59L271.2 363.39L272.2 364.16L273.1 365.21L273.9 366.38L274.7 367.81L275.4 369.16L276.1 370.25L276.7 371.41L277.1 372.55L277.5 373.99L277.9 374.99L278.3 376.14L278.6 377.81L278.9 379.25L279.3 380.95L279.6 382.35L279.9 383.51L280.1 384.76L280.4 386.20L280.6 387.34L280.9 388.69L281.1 390.04L281.4 391.12L281.6 392.94L281.9 394.14L282.1 395.65L282.3 396.79L282.6 398.31L282.9 399.33L283.1 401.02L283.4 402.38L283.6 403.64L283.8 405.21L284.1 406.44L284.3 407.57L284.5 408.69L284.9 410.82L285.3 412.39L285.6 413.67L286.0 414.76L286.7 416.08L287.5 416.65L288.4 415.54L289.3 413.92L289.7 412.84L290.1 411.06L290.6 409.68L291.0 408.06L291.5 406.40L291.9 405.30L292.3 404.16L292.7 402.70L293.1 401.68L293.5 400.23L293.9 398.68L294.4 397.68L295.0 396.32L295.5 394.78L296.1 393.87L296.7 393.17L297.4 391.43L298.1 390.17L299.0 388.93L300.0 387.94L301.0 386.75L302.1 385.73L303.3 385.28L304.5 384.35L305.8 383.68L307.2 383.51L308.6 383.18L310.0 383.47L311.4 383.52L312.8 383.62L314.2 383.68L315.8 384.25L317.4 384.74L318.6 385.02L319.9 386.04L321.3 386.31L322.7 387.36L324.0 387.67L325.2 388.58L326.2 388.79L327.0 389.65" stroke="#5b9b8f"/>
</g>
<g fill="none" stroke-width="1.35" stroke-linejoin="round">
<path d="M335.0 94.60L335.8 94.58L336.9 94.49L338.1 95.08L339.5 95.18L341.0 95.31L342.5 95.70L344.0 95.63L345.5 95.67L346.8 95.81L348.2 95.89L349.6 95.86L350.9 96.23L352.3 96.42L353.6 96.67L354.8 96.46L356.1 96.28L357.2 96.39L358.6 97.49L360.0 97.38L361.2 97.57L362.4 98.41L363.5 99.13L364.6 99.84L365.8 100.49L366.9 100.97L367.9 101.77L368.8 103.48L369.8 104.55L370.5 105.66L371.2 106.69L371.8 108.24L372.5 109.70L373.1 110.69L373.7 112.08L374.2 113.75L374.6 114.68L375.1 116.27L375.5 117.51L375.8 118.63L376.2 119.86L376.5 121.20L376.9 122.52L377.2 123.98L377.5 125.48L377.7 126.37L378.0 127.83L378.2 129.24L378.5 130.50L378.7 131.79L378.9 133.12L379.2 134.36L379.4 136.06L379.6 137.29L379.9 138.62L380.1 139.65L380.3 141.47L380.6 143.49L380.8 144.68L381.0 145.57L381.2 146.26L381.4 147.87L381.7 149.67L382.0 151.03L382.2 152.09L382.4 153.20L382.7 154.79L383.0 156.37L383.3 157.98L383.5 159.50L383.8 161.08L384.1 162.01L384.4 163.78L384.7 165.20L385.0 166.35L385.2 168.09L385.5 168.91L386.0 171.42L386.5 171.91L387.0 170.89L387.6 169.25L387.9 167.84L388.3 166.70L388.7 164.80L389.1 163.59L389.5 161.80L389.8 160.74L390.1 159.76L390.4 157.79L390.7 156.29L391.0 155.23L391.3 153.42L391.5 152.26L391.7 151.34L392.0 149.48L392.3 148.22L392.5 146.74L392.7 145.71L392.9 144.03L393.1 142.76L393.4 141.79L393.6 139.99L393.9 138.41L394.2 137.46L394.6 135.96L395.0 133.95L395.4 132.84L395.8 131.15L396.3 130.25L396.7 128.81L397.2 127.67L398.0 125.86L398.9 124.22L399.9 123.78L400.9 122.72L402.1 121.45L403.4 120.64L404.7 120.39L406.1 119.91L407.5 119.84L408.8 119.57L410.3 119.87L412.0 120.18L413.1 120.14L414.3 120.82L415.6 120.99L417.0 121.65L418.3 122.16L419.6 122.48L420.9 123.09L422.4 124.13L424.0 124.34L425.5 124.94L426.9 125.94L428.1 126.33L429.0 126.63" stroke="#6e6e6e"/>
<path d="M335.0 145.90L335.8 145.86L336.9 145.89L338.1 146.58L339.5 146.56L341.0 146.45L342.5 146.42L344.0 146.76L345.5 147.19L346.8 146.85L348.2 147.11L349.6 147.04L351.0 147.34L352.3 147.69L353.6 147.33L354.9 147.51L356.1 147.87L357.2 148.37L358.8 148.69L360.2 148.78L361.5 149.23L362.7 149.98L363.9 150.32L365.0 151.07L366.1 151.49L367.1 152.44L368.0 153.47L369.0 154.88L369.8 156.05L370.6 157.12L371.3 158.32L372.1 159.77L372.8 160.85L373.5 162.08L374.3 163.55L375.1 165.02L375.8 166.41L376.5 167.54L377.2 168.86L377.8 169.87L378.4 171.02L379.0 172.59L379.6 173.36L380.1 174.86L380.5 175.94L380.9 177.17L381.3 178.48L381.7 179.49L382.0 181.40L382.4 183.27L382.6 184.00L382.9 185.26L383.1 186.61L383.4 188.04L383.6 189.45L383.9 190.77L384.1 191.86L384.4 193.26L384.6 194.73L384.8 196.18L385.1 197.30L385.4 199.30L385.6 200.32L385.9 201.77L386.1 203.11L386.4 204.67L386.6 205.75L386.8 206.81L387.2 208.12L387.4 209.56L387.7 210.99L388.0 211.73L388.2 213.28L388.5 214.87L388.7 216.21L389.0 217.85L389.2 219.66L389.5 220.63L389.9 222.28L390.2 224.65L390.6 226.22L391.0 226.96L391.3 226.41L391.6 225.03L391.9 223.77L392.2 222.21L392.6 220.44L393.0 219.19L393.4 217.77L393.8 216.49L394.2 214.96L394.6 213.43L395.0 211.62L395.2 210.73L395.4 209.09L395.6 207.83L395.8 206.15L396.0 204.68L396.2 203.94L396.4 202.09L396.6 201.10L396.8 199.61L397.1 198.23L397.3 197.15L397.6 195.70L397.9 193.76L398.1 192.97L398.4 191.64L398.7 190.20L399.1 188.94L399.5 187.33L399.9 186.45L400.3 184.97L400.7 183.62L401.1 182.69L401.6 181.34L402.4 180.06L403.3 178.66L404.3 177.53L405.3 176.13L406.5 175.57L407.8 174.96L409.1 174.67L410.5 174.61L411.9 174.65L413.3 174.17L414.8 174.09L416.4 174.93L417.6 175.07L418.9 175.60L420.2 176.16L421.5 176.52L422.8 177.28L423.9 177.96L425.5 178.48L426.9 179.08L428.1 179.91L429.0 180.34" stroke="#6e6e6e"/>
<path d="M335.0 198.70L336.0 198.74L337.3 198.68L338.9 198.73L340.6 199.04L342.3 199.10L343.9 198.66L345.4 199.55L347.0 199.46L348.5 199.85L350.0 200.03L351.4 199.87L352.7 200.05L354.3 200.89L355.6 201.22L356.7 201.96L357.9 203.25L358.9 204.54L359.8 205.32L360.7 206.46L361.6 207.71L362.4 209.01L363.1 210.00L363.7 211.39L364.2 212.62L364.7 213.82L365.3 214.46L366.3 216.30L367.2 217.95L368.3 219.44L370.1 219.58L372.0 219.98L373.5 219.74L375.0 220.53L376.2 221.42L377.4 222.08L378.7 223.11L379.8 224.15L380.9 224.32L382.0 226.25L383.1 226.73L384.1 228.06L385.0 228.66L385.9 229.58L386.8 230.53L387.6 231.42L388.4 232.79L389.1 234.41L389.8 236.12L390.3 237.01L390.8 238.00L391.3 239.59L391.8 240.88L392.3 241.87L392.7 243.41L393.5 244.52L394.3 246.02L395.0 246.51L396.1 245.66L397.2 243.98L397.7 242.44L398.3 241.73L398.8 240.16L399.5 238.87L400.1 237.01L400.8 236.08L401.5 234.25L402.2 234.09L403.0 232.33L403.9 231.72L405.1 230.65L406.3 229.86L407.6 228.61L409.0 228.17L410.4 228.18L411.9 227.71L413.4 227.70L415.0 228.24L416.4 228.28L417.9 228.51L419.4 228.98L420.9 229.73L422.4 229.91L423.9 230.32L425.4 231.12L426.9 231.74L428.1 232.45L429.0 232.55" stroke="#dc2b27" stroke-width="1.6"/>
<path d="M335.0 250.70L336.0 250.74L337.3 250.27L338.9 250.55L340.6 250.90L342.3 250.98L343.9 250.52L345.4 250.92L346.9 251.41L348.5 251.76L350.0 252.07L351.4 252.31L352.7 252.33L354.1 253.07L355.4 253.77L356.6 253.90L357.7 254.88L358.7 255.92L359.6 257.01L360.4 258.06L361.1 259.45L361.7 260.62L362.4 261.71L362.9 263.42L363.4 264.70L363.9 266.04L364.4 267.68L364.9 268.50L365.3 269.94L366.1 271.75L366.8 273.26L367.6 274.53L368.9 274.74L370.5 274.13L371.9 273.31L373.5 272.25L375.0 271.67L376.3 272.64L377.4 274.21L378.7 275.54L379.7 275.71L380.8 276.53L382.0 277.48L383.1 278.30L384.2 278.88L385.4 279.50L386.5 280.20L387.6 281.27L388.6 282.16L389.6 283.62L390.5 284.87L391.3 285.25L392.3 286.78L393.3 288.16L394.2 289.62L395.6 290.30L396.9 290.83L398.1 289.63L399.4 288.27L400.2 287.83L401.1 286.01L402.1 285.24L403.1 283.52L404.1 283.32L405.2 282.46L406.4 281.28L407.6 281.06L408.9 280.40L410.4 280.16L411.9 279.62L413.5 279.56L414.9 279.78L416.3 279.79L417.8 280.11L419.4 280.70L420.9 280.84L422.3 281.70L423.8 281.77L425.4 282.62L426.9 283.30L428.1 284.67L429.0 284.50" stroke="#dc2b27" stroke-width="1.6"/>
<path d="M335.0 302.20L335.8 302.19L336.8 301.97L338.1 302.27L339.4 302.49L340.9 302.92L342.4 302.60L343.9 302.92L345.4 302.68L346.8 303.11L348.1 303.21L349.5 303.28L350.9 303.40L352.2 303.60L353.6 303.69L355.0 304.55L356.3 303.84L357.5 304.30L358.7 304.66L360.2 305.22L361.5 305.30L362.9 305.59L364.2 306.07L365.4 305.83L366.5 306.20L367.6 307.04L369.0 307.42L370.3 307.64L371.4 308.53L372.5 309.67L373.5 310.82L374.3 311.66L374.9 312.83L375.5 313.81L376.1 315.88L376.7 316.67L377.2 317.91L377.6 319.11L378.0 320.83L378.4 321.42L378.7 323.41L379.1 324.36L379.4 325.71L379.8 327.40L380.1 328.56L380.4 330.15L380.8 331.21L381.1 332.50L381.4 334.32L381.8 335.35L382.1 336.51L382.4 338.03L382.7 339.06L383.3 341.20L383.8 342.63L384.4 343.53L385.0 345.09L386.0 346.11L387.0 346.86L388.0 348.61L388.5 349.97L389.1 351.08L389.5 352.69L390.0 354.22L390.5 355.29L390.9 356.56L391.3 357.57L391.6 358.91L392.0 360.41L392.4 361.68L392.7 362.72L393.1 364.05L393.4 365.69L393.8 367.28L394.1 368.95L394.5 370.57L395.0 372.13L395.4 374.25L395.9 375.66L396.4 375.84L396.9 375.59L397.4 373.96L397.9 372.11L398.5 370.22L399.0 368.80L399.5 367.32L400.0 365.47L400.5 364.32L400.9 363.27L401.3 361.73L401.6 359.78L401.9 358.25L402.2 357.04L402.5 355.30L402.8 353.68L403.1 352.62L403.5 350.93L403.8 349.37L404.2 348.42L404.6 346.76L404.9 345.32L405.3 343.12L405.8 342.26L406.2 340.87L406.8 340.09L407.8 338.45L408.8 336.69L410.0 336.23L411.3 335.68L412.7 335.25L414.1 334.50L415.6 334.16L417.2 334.25L418.5 334.65L419.9 334.87L421.3 335.27L422.6 335.91L423.9 335.96L425.4 337.02L426.9 337.73L428.1 338.56L429.0 339.12" stroke="#6e6e6e"/>
<path d="M335.0 354.70L335.8 354.90L336.8 354.97L338.1 355.14L339.4 355.05L340.9 355.19L342.4 355.15L343.9 355.20L345.4 355.26L346.8 355.73L348.1 356.05L349.5 355.84L350.9 356.14L352.2 356.01L353.6 356.48L355.0 356.41L356.3 356.38L357.5 356.61L358.7 356.96L360.1 356.94L361.5 357.39L362.8 357.22L364.1 357.83L365.3 358.26L366.5 358.75L367.6 359.00L368.9 359.52L370.0 360.22L371.2 361.17L372.2 361.91L373.2 362.39L374.2 363.20L375.1 364.60L375.9 365.63L376.7 366.36L377.4 367.43L378.1 369.06L378.7 369.92L379.1 371.54L379.6 372.53L379.9 373.62L380.3 374.94L380.6 376.55L381.0 377.90L381.3 379.04L381.6 380.45L381.9 382.00L382.2 383.32L382.4 384.36L382.7 385.78L382.9 386.99L383.2 388.36L383.4 389.58L383.7 391.37L383.9 392.11L384.2 393.80L384.4 395.21L384.7 396.90L385.0 397.87L385.2 399.27L385.5 400.40L385.8 402.12L386.1 402.54L386.6 404.33L387.2 405.96L387.8 407.01L388.4 407.92L389.0 408.84L390.1 410.16L391.3 411.65L391.9 412.77L392.5 413.50L393.1 415.72L393.7 416.69L394.2 418.48L394.8 419.84L395.4 421.73L395.9 422.88L396.4 424.21L397.2 426.51L397.9 427.06L398.5 426.26L399.2 424.99L399.9 422.43L400.2 422.18L400.5 420.67L400.8 419.32L401.1 418.78L401.5 416.71L401.8 415.29L402.1 413.85L402.4 412.38L402.7 411.41L403.0 409.57L403.2 408.39L403.5 407.26L403.7 405.24L404.0 403.47L404.3 402.54L404.6 401.39L405.0 400.05L405.5 398.44L406.0 396.84L406.5 395.82L407.0 395.02L407.6 393.67L408.6 392.81L409.6 391.49L410.8 390.29L412.0 389.57L413.4 389.36L414.8 389.41L416.4 388.79L417.9 388.65L419.4 389.12L420.9 388.81L422.5 389.36L423.9 389.72L425.4 390.28L426.8 391.29L428.1 391.69L429.0 392.12" stroke="#5b9b8f"/>
</g>
<path d="M67.9 148.3L72.5 152.9L67.9 157.5L63.3 152.9Z" fill="#fff" stroke="#7b7b7b" stroke-width="2.0"/>
<path d="M70.9 193.6L75.5 198.2L70.9 202.8L66.3 198.2Z" fill="#fff" stroke="#7b7b7b" stroke-width="2.0"/>
<path d="M61.3 226.7L65.9 231.3L61.3 235.9L56.7 231.3Z" fill="#fff" stroke="#e03a32" stroke-width="2.0"/>
<path d="M87.9 228.1L92.5 232.7L87.9 237.3L83.3 232.7Z" fill="#fff" stroke="#e03a32" stroke-width="2.0"/>
<path d="M57.9 272.7L62.5 277.3L57.9 281.9L53.3 277.3Z" fill="#fff" stroke="#e03a32" stroke-width="2.0"/>
<path d="M86.0 280.1L90.6 284.7L86.0 289.3L81.4 284.7Z" fill="#fff" stroke="#e03a32" stroke-width="2.0"/>
<path d="M80.8 356.6L85.4 361.2L80.8 365.8L76.2 361.2Z" fill="#fff" stroke="#7b7b7b" stroke-width="2.0"/>
<path d="M80.1 395.3L84.7 399.9L80.1 404.5L75.5 399.9Z" fill="#fff" stroke="#5fa397" stroke-width="2.0"/>
<path d="M172.4 125.9L176.1 133.3L168.7 133.3Z" fill="#fff" stroke="#7b7b7b" stroke-width="2.0" stroke-linejoin="miter"/>
<path d="M177.6 176.6L181.3 184.0L173.9 184.0Z" fill="#fff" stroke="#7b7b7b" stroke-width="2.0" stroke-linejoin="miter"/>
<path d="M163.3 218.7L167.0 226.1L159.6 226.1Z" fill="#fff" stroke="#e03a32" stroke-width="2.0" stroke-linejoin="miter"/>
<path d="M179.4 231.4L180.6 234.5L183.9 234.6L181.3 236.7L182.2 239.9L179.4 238.1L176.6 239.9L177.5 236.7L174.9 234.6L178.2 234.5Z" fill="#fff" stroke="#6e1518" stroke-width="1.6" stroke-linejoin="miter"/>
<path d="M159.1 264.7L162.8 272.1L155.4 272.1Z" fill="#fff" stroke="#e03a32" stroke-width="2.0" stroke-linejoin="miter"/>
<path d="M182.4 285.5L183.6 288.6L186.9 288.7L184.3 290.8L185.2 294.0L182.4 292.2L179.6 294.0L180.5 290.8L177.9 288.7L181.2 288.6Z" fill="#fff" stroke="#6e1518" stroke-width="1.6" stroke-linejoin="miter"/>
<path d="M187.6 342.7L191.3 350.1L183.9 350.1Z" fill="#fff" stroke="#7b7b7b" stroke-width="2.0" stroke-linejoin="miter"/>
<path d="M187.3 397.6L191.0 405.0L183.6 405.0Z" fill="#fff" stroke="#5fa397" stroke-width="2.0" stroke-linejoin="miter"/>
<path d="M285.6 163.7L289.3 171.1L281.9 171.1Z" fill="#fff" stroke="#7b7b7b" stroke-width="2.0" stroke-linejoin="miter"/>
<path d="M277.1 179.3L280.8 186.7L273.4 186.7Z" fill="#fff" stroke="#7b7b7b" stroke-width="2.0" stroke-linejoin="miter"/>
<path d="M289.3 212.7L293.0 220.1L285.6 220.1Z" fill="#fff" stroke="#7b7b7b" stroke-width="2.0" stroke-linejoin="miter"/>
<path d="M266.3 226.8L270.0 234.2L262.6 234.2Z" fill="#fff" stroke="#e03a32" stroke-width="2.0" stroke-linejoin="miter"/>
<path d="M295.5 226.8L299.2 219.4L291.8 219.4Z" fill="#fff" stroke="#e03a32" stroke-width="2.0" stroke-linejoin="miter"/>
<path d="M283.3 236.2L284.5 239.3L287.8 239.4L285.2 241.5L286.1 244.7L283.3 242.9L280.5 244.7L281.4 241.5L278.8 239.4L282.1 239.3Z" fill="#fff" stroke="#6e1518" stroke-width="1.6" stroke-linejoin="miter"/>
<path d="M264.1 272.2L267.8 279.6L260.4 279.6Z" fill="#fff" stroke="#e03a32" stroke-width="2.0" stroke-linejoin="miter"/>
<path d="M296.7 280.0L300.4 272.6L293.0 272.6Z" fill="#fff" stroke="#e03a32" stroke-width="2.0" stroke-linejoin="miter"/>
<path d="M285.6 294.1L286.8 297.2L290.1 297.3L287.5 299.4L288.4 302.6L285.6 300.8L282.8 302.6L283.7 299.4L281.1 297.3L284.4 297.2Z" fill="#fff" stroke="#6e1518" stroke-width="1.6" stroke-linejoin="miter"/>
<path d="M284.1 356.7L287.8 364.1L280.4 364.1Z" fill="#fff" stroke="#7b7b7b" stroke-width="2.0" stroke-linejoin="miter"/>
<path d="M294.4 355.7L298.1 363.1L290.7 363.1Z" fill="#fff" stroke="#7b7b7b" stroke-width="2.0" stroke-linejoin="miter"/>
<path d="M286.9 421.3L290.6 428.7L283.2 428.7Z" fill="#fff" stroke="#5fa397" stroke-width="2.0" stroke-linejoin="miter"/>
<path d="M377.6 174.8L381.3 182.2L373.9 182.2Z" fill="#fff" stroke="#7b7b7b" stroke-width="2.0" stroke-linejoin="miter"/>
<path d="M386.8 178.5L390.5 185.9L383.1 185.9Z" fill="#fff" stroke="#7b7b7b" stroke-width="2.0" stroke-linejoin="miter"/>
<path d="M369.0 224.6L372.7 232.0L365.3 232.0Z" fill="#fff" stroke="#e03a32" stroke-width="2.0" stroke-linejoin="miter"/>
<path d="M380.9 230.3L382.1 233.4L385.4 233.5L382.8 235.6L383.7 238.8L380.9 237.0L378.1 238.8L379.0 235.6L376.4 233.5L379.7 233.4Z" fill="#fff" stroke="#6e1518" stroke-width="1.6" stroke-linejoin="miter"/>
<path d="M391.0 228.3L394.7 235.7L387.3 235.7Z" fill="#fff" stroke="#7b7b7b" stroke-width="2.0" stroke-linejoin="miter"/>
<path d="M395.4 241.6L399.1 234.2L391.7 234.2Z" fill="#fff" stroke="#e03a32" stroke-width="2.0" stroke-linejoin="miter"/>
<path d="M368.3 281.0L372.0 288.4L364.6 288.4Z" fill="#fff" stroke="#e03a32" stroke-width="2.0" stroke-linejoin="miter"/>
<path d="M383.1 283.0L384.3 286.1L387.6 286.2L385.0 288.3L385.9 291.5L383.1 289.7L380.3 291.5L381.2 288.3L378.6 286.2L381.9 286.1Z" fill="#fff" stroke="#6e1518" stroke-width="1.6" stroke-linejoin="miter"/>
<path d="M397.2 285.9L400.9 278.5L393.5 278.5Z" fill="#fff" stroke="#e03a32" stroke-width="2.0" stroke-linejoin="miter"/>
<path d="M385.3 352.7L389.0 360.1L381.6 360.1Z" fill="#fff" stroke="#7b7b7b" stroke-width="2.0" stroke-linejoin="miter"/>
<path d="M396.9 381.3L400.6 388.7L393.2 388.7Z" fill="#fff" stroke="#7b7b7b" stroke-width="2.0" stroke-linejoin="miter"/>
<path d="M388.3 413.3L392.0 420.7L384.6 420.7Z" fill="#fff" stroke="#5fa397" stroke-width="2.0" stroke-linejoin="miter"/>
<path d="M398.7 431.6L402.4 439.0L395.0 439.0Z" fill="#fff" stroke="#5fa397" stroke-width="2.0" stroke-linejoin="miter"/>
<rect x="28.5" y="80.4" width="95.0" height="363.0" fill="none" stroke="#1a1a1a" stroke-width="1.1"/>
<path d="M58.2 80.4v5M58.2 443.4v-5M88.0 80.4v5M88.0 443.4v-5M117.8 80.4v5M117.8 443.4v-5M28.5 131.8h5M123.5 131.8h-5M28.5 206.3h5M123.5 206.3h-5M28.5 280.8h5M123.5 280.8h-5M28.5 355.3h5M123.5 355.3h-5M28.5 429.8h5M123.5 429.8h-5" stroke="#1a1a1a" stroke-width="1.1" fill="none"/>
<text transform="translate(28.5,462.8) scale(0.95,1)" text-anchor="middle" style="font-family:'Liberation Sans',sans-serif;font-size:20.4px" fill="#111" stroke="#111" stroke-width="0.35">0</text>
<text transform="translate(58.2,462.8) scale(0.95,1)" text-anchor="middle" style="font-family:'Liberation Sans',sans-serif;font-size:20.4px" fill="#111" stroke="#111" stroke-width="0.35">1</text>
<text transform="translate(88.0,462.8) scale(0.95,1)" text-anchor="middle" style="font-family:'Liberation Sans',sans-serif;font-size:20.4px" fill="#111" stroke="#111" stroke-width="0.35">2</text>
<text transform="translate(117.5,462.8) scale(0.95,1)" text-anchor="middle" style="font-family:'Liberation Sans',sans-serif;font-size:20.4px" fill="#111" stroke="#111" stroke-width="0.35">3</text>
<text x="76.3" y="482.4" text-anchor="middle" style="font-family:'Liberation Sans',sans-serif;font-size:20.4px" fill="#111" stroke="#111" stroke-width="0.35"><tspan font-style="italic">f</tspan> (GHz)</text>
<rect x="130.4" y="80.4" width="95.0" height="363.0" fill="none" stroke="#1a1a1a" stroke-width="1.1"/>
<path d="M160.2 80.4v5M160.2 443.4v-5M189.9 80.4v5M189.9 443.4v-5M219.7 80.4v5M219.7 443.4v-5M130.4 131.8h5M225.4 131.8h-5M130.4 206.3h5M225.4 206.3h-5M130.4 280.8h5M225.4 280.8h-5M130.4 355.3h5M225.4 355.3h-5M130.4 429.8h5M225.4 429.8h-5" stroke="#1a1a1a" stroke-width="1.1" fill="none"/>
<text transform="translate(131.8,462.8) scale(0.95,1)" text-anchor="middle" style="font-family:'Liberation Sans',sans-serif;font-size:20.4px" fill="#111" stroke="#111" stroke-width="0.35">0</text>
<text transform="translate(160.2,462.8) scale(0.95,1)" text-anchor="middle" style="font-family:'Liberation Sans',sans-serif;font-size:20.4px" fill="#111" stroke="#111" stroke-width="0.35">1</text>
<text transform="translate(189.9,462.8) scale(0.95,1)" text-anchor="middle" style="font-family:'Liberation Sans',sans-serif;font-size:20.4px" fill="#111" stroke="#111" stroke-width="0.35">2</text>
<text transform="translate(219.3,462.8) scale(0.95,1)" text-anchor="middle" style="font-family:'Liberation Sans',sans-serif;font-size:20.4px" fill="#111" stroke="#111" stroke-width="0.35">3</text>
<text x="178.2" y="482.4" text-anchor="middle" style="font-family:'Liberation Sans',sans-serif;font-size:20.4px" fill="#111" stroke="#111" stroke-width="0.35"><tspan font-style="italic">f</tspan> (GHz)</text>
<rect x="232.2" y="80.4" width="95.0" height="363.0" fill="none" stroke="#1a1a1a" stroke-width="1.1"/>
<path d="M261.9 80.4v5M261.9 443.4v-5M291.7 80.4v5M291.7 443.4v-5M321.4 80.4v5M321.4 443.4v-5M232.2 131.8h5M327.2 131.8h-5M232.2 206.3h5M327.2 206.3h-5M232.2 280.8h5M327.2 280.8h-5M232.2 355.3h5M327.2 355.3h-5M232.2 429.8h5M327.2 429.8h-5" stroke="#1a1a1a" stroke-width="1.1" fill="none"/>
<text transform="translate(233.6,462.8) scale(0.95,1)" text-anchor="middle" style="font-family:'Liberation Sans',sans-serif;font-size:20.4px" fill="#111" stroke="#111" stroke-width="0.35">0</text>
<text transform="translate(261.9,462.8) scale(0.95,1)" text-anchor="middle" style="font-family:'Liberation Sans',sans-serif;font-size:20.4px" fill="#111" stroke="#111" stroke-width="0.35">1</text>
<text transform="translate(291.7,462.8) scale(0.95,1)" text-anchor="middle" style="font-family:'Liberation Sans',sans-serif;font-size:20.4px" fill="#111" stroke="#111" stroke-width="0.35">2</text>
<text transform="translate(321.1,462.8) scale(0.95,1)" text-anchor="middle" style="font-family:'Liberation Sans',sans-serif;font-size:20.4px" fill="#111" stroke="#111" stroke-width="0.35">3</text>
<text x="280.0" y="482.4" text-anchor="middle" style="font-family:'Liberation Sans',sans-serif;font-size:20.4px" fill="#111" stroke="#111" stroke-width="0.35"><tspan font-style="italic">f</tspan> (GHz)</text>
<rect x="333.8" y="80.4" width="95.0" height="363.0" fill="none" stroke="#1a1a1a" stroke-width="1.1"/>
<path d="M363.6 80.4v5M363.6 443.4v-5M393.3 80.4v5M393.3 443.4v-5M423.1 80.4v5M423.1 443.4v-5M333.8 131.8h5M428.8 131.8h-5M333.8 206.3h5M428.8 206.3h-5M333.8 280.8h5M428.8 280.8h-5M333.8 355.3h5M428.8 355.3h-5M333.8 429.8h5M428.8 429.8h-5" stroke="#1a1a1a" stroke-width="1.1" fill="none"/>
<text transform="translate(335.2,462.8) scale(0.95,1)" text-anchor="middle" style="font-family:'Liberation Sans',sans-serif;font-size:20.4px" fill="#111" stroke="#111" stroke-width="0.35">0</text>
<text transform="translate(363.6,462.8) scale(0.95,1)" text-anchor="middle" style="font-family:'Liberation Sans',sans-serif;font-size:20.4px" fill="#111" stroke="#111" stroke-width="0.35">1</text>
<text transform="translate(393.3,462.8) scale(0.95,1)" text-anchor="middle" style="font-family:'Liberation Sans',sans-serif;font-size:20.4px" fill="#111" stroke="#111" stroke-width="0.35">2</text>
<text transform="translate(422.8,462.8) scale(0.95,1)" text-anchor="middle" style="font-family:'Liberation Sans',sans-serif;font-size:20.4px" fill="#111" stroke="#111" stroke-width="0.35">3</text>
<text x="381.6" y="482.4" text-anchor="middle" style="font-family:'Liberation Sans',sans-serif;font-size:20.4px" fill="#111" stroke="#111" stroke-width="0.35"><tspan font-style="italic">f</tspan> (GHz)</text>
<text transform="translate(32.2,124.7) scale(0.925,1)" text-anchor="start" style="font-family:'Liberation Sans',sans-serif;font-size:20.4px" fill="#111"  stroke="#111" stroke-width="0.35">44</text>
<text transform="translate(32.6,176.0) scale(0.925,1)" text-anchor="start" style="font-family:'Liberation Sans',sans-serif;font-size:20.4px" fill="#111"  stroke="#111" stroke-width="0.35">38</text>
<text transform="translate(32.9,228.0) scale(0.925,1)" text-anchor="start" style="font-family:'Liberation Sans',sans-serif;font-size:20.4px" fill="#111"  stroke="#111" stroke-width="0.35">24</text>
<text transform="translate(32.6,280.3) scale(0.925,1)" text-anchor="start" style="font-family:'Liberation Sans',sans-serif;font-size:20.4px" fill="#111"  stroke="#111" stroke-width="0.35">18</text>
<text transform="translate(33.5,332.3) scale(0.925,1)" text-anchor="start" style="font-family:'Liberation Sans',sans-serif;font-size:20.4px" fill="#111"  stroke="#111" stroke-width="0.35">12</text>
<text transform="translate(32.9,387.6) scale(1.020,1)" text-anchor="start" style="font-family:'Liberation Sans',sans-serif;font-size:20.4px" fill="#111"  stroke="#111" stroke-width="0.35">0mT</text>
<text transform="translate(133.7,123.2) scale(0.925,1)" text-anchor="start" style="font-family:'Liberation Sans',sans-serif;font-size:20.4px" fill="#111"  stroke="#111" stroke-width="0.35">44</text>
<text transform="translate(134.2,175.6) scale(0.925,1)" text-anchor="start" style="font-family:'Liberation Sans',sans-serif;font-size:20.4px" fill="#111"  stroke="#111" stroke-width="0.35">38</text>
<text transform="translate(133.7,228.0) scale(0.925,1)" text-anchor="start" style="font-family:'Liberation Sans',sans-serif;font-size:20.4px" fill="#111"  stroke="#111" stroke-width="0.35">24</text>
<text transform="translate(134.6,280.0) scale(0.925,1)" text-anchor="start" style="font-family:'Liberation Sans',sans-serif;font-size:20.4px" fill="#111"  stroke="#111" stroke-width="0.35">18</text>
<text transform="translate(134.7,331.6) scale(0.925,1)" text-anchor="start" style="font-family:'Liberation Sans',sans-serif;font-size:20.4px" fill="#111"  stroke="#111" stroke-width="0.35">12</text>
<text transform="translate(134.2,387.3) scale(1.020,1)" text-anchor="start" style="font-family:'Liberation Sans',sans-serif;font-size:20.4px" fill="#111"  stroke="#111" stroke-width="0.35">0mT</text>
<text transform="translate(237.2,122.1) scale(0.925,1)" text-anchor="start" style="font-family:'Liberation Sans',sans-serif;font-size:20.4px" fill="#111"  stroke="#111" stroke-width="0.35">46</text>
<text transform="translate(237.6,175.6) scale(0.925,1)" text-anchor="start" style="font-family:'Liberation Sans',sans-serif;font-size:20.4px" fill="#111"  stroke="#111" stroke-width="0.35">38</text>
<text transform="translate(237.6,228.3) scale(0.925,1)" text-anchor="start" style="font-family:'Liberation Sans',sans-serif;font-size:20.4px" fill="#111"  stroke="#111" stroke-width="0.35">28</text>
<text transform="translate(237.6,280.3) scale(0.925,1)" text-anchor="start" style="font-family:'Liberation Sans',sans-serif;font-size:20.4px" fill="#111"  stroke="#111" stroke-width="0.35">24</text>
<text transform="translate(237.2,332.3) scale(0.925,1)" text-anchor="start" style="font-family:'Liberation Sans',sans-serif;font-size:20.4px" fill="#111"  stroke="#111" stroke-width="0.35">22</text>
<text transform="translate(237.6,387.3) scale(1.020,1)" text-anchor="start" style="font-family:'Liberation Sans',sans-serif;font-size:20.4px" fill="#111"  stroke="#111" stroke-width="0.35">0mT</text>
<text transform="translate(339.6,122.1) scale(0.925,1)" text-anchor="start" style="font-family:'Liberation Sans',sans-serif;font-size:20.4px" fill="#111"  stroke="#111" stroke-width="0.35">46</text>
<text transform="translate(340.1,175.6) scale(0.925,1)" text-anchor="start" style="font-family:'Liberation Sans',sans-serif;font-size:20.4px" fill="#111"  stroke="#111" stroke-width="0.35">38</text>
<text transform="translate(340.1,228.3) scale(0.925,1)" text-anchor="start" style="font-family:'Liberation Sans',sans-serif;font-size:20.4px" fill="#111"  stroke="#111" stroke-width="0.35">30</text>
<text transform="translate(340.1,280.3) scale(0.925,1)" text-anchor="start" style="font-family:'Liberation Sans',sans-serif;font-size:20.4px" fill="#111"  stroke="#111" stroke-width="0.35">28</text>
<text transform="translate(339.6,332.3) scale(0.925,1)" text-anchor="start" style="font-family:'Liberation Sans',sans-serif;font-size:20.4px" fill="#111"  stroke="#111" stroke-width="0.35">20</text>
<text transform="translate(340.1,387.3) scale(1.020,1)" text-anchor="start" style="font-family:'Liberation Sans',sans-serif;font-size:20.4px" fill="#111"  stroke="#111" stroke-width="0.35">0mT</text>
<text transform="translate(121.6,102.6) scale(0.960,1)" text-anchor="end" style="font-family:'Liberation Sans',sans-serif;font-size:21.3px" fill="#777"  stroke="#777" stroke-width="0.35">Conical</text>
<text transform="translate(121.6,250.1) scale(1.015,1)" text-anchor="end" style="font-family:'Liberation Sans',sans-serif;font-size:20.2px" fill="#d9312c"  stroke="#d9312c" stroke-width="0.35">Skyrmion</text>
<text transform="translate(121.6,306.3) scale(0.995,1)" text-anchor="end" style="font-family:'Liberation Sans',sans-serif;font-size:20.6px" fill="#777"  stroke="#777" stroke-width="0.35">Conical</text>
<text transform="translate(121.6,423.0) scale(0.960,1)" text-anchor="end" style="font-family:'Liberation Sans',sans-serif;font-size:21.3px" fill="#5fa094"  stroke="#5fa094" stroke-width="0.35">Helical</text>
<text transform="translate(24.6,139.0) scale(0.950,1)" text-anchor="end" style="font-family:'Liberation Sans',sans-serif;font-size:20.4px" fill="#111"  stroke="#111" stroke-width="0.35">3</text>
<text transform="translate(24.6,362.6) scale(0.950,1)" text-anchor="end" style="font-family:'Liberation Sans',sans-serif;font-size:20.4px" fill="#111"  stroke="#111" stroke-width="0.35">0</text>
<text transform="translate(16.2,325.4) rotate(-90)" style="font-family:'Liberation Sans',sans-serif;font-size:20.4px" fill="#111" textLength="59" lengthAdjust="spacingAndGlyphs" stroke="#111" stroke-width="0.35">Δ|S<tspan dy="4.2" font-size="17">12</tspan><tspan dy="-4.2">|</tspan></text>
<text transform="translate(16.2,260.8) rotate(-90)" style="font-family:'Liberation Sans',sans-serif;font-size:20.4px" fill="#111" textLength="99.6" lengthAdjust="spacingAndGlyphs" stroke="#111" stroke-width="0.35">(arb. units)</text>
<clipPath id="clipe"><rect x="484.8" y="17.6" width="188.6" height="138.8"/></clipPath>
<g clip-path="url(#clipe)">
<rect x="484.8" y="17.6" width="14.3" height="138.8" fill="#8fa8ac"/>
<rect x="499.1" y="17.6" width="93.6" height="138.8" fill="#d3d5d5"/>
<rect x="518.3" y="17.6" width="26.6" height="138.8" fill="#da8f91"/>
<path d="M595.6 99.7L599.3 99.9L603.0 100.4L606.7 100.9L610.3 99.9L614.0 99.9L617.7 100.1L618.1 105.7L617.1 110.8L618.1 116.0L617.9 121.1L617.0 126.3L617.7 131.5L617.6 136.6L617.5 141.8L618.5 146.9L617.0 152.1L614.0 151.2L610.3 152.8L606.7 151.9L603.0 151.5L599.3 151.8L595.6 151.8L596.4 146.9L595.2 141.8L595.2 136.6L595.8 131.5L595.7 126.3L596.4 121.1L596.2 116.0L595.4 110.8L595.1 105.7Z" fill="#fabf2d"/><path d="M625.1 99.8L627.5 100.1L630.0 100.2L632.5 101.2L634.9 100.5L637.3 100.9L639.8 99.9L639.8 105.7L640.3 110.8L639.8 116.0L640.5 121.1L640.4 126.3L639.5 131.5L638.9 136.6L640.2 141.8L639.1 146.9L638.9 152.1L637.3 152.4L634.9 152.6L632.5 152.6L630.0 152.8L627.5 151.5L625.1 151.3L624.5 146.9L626.0 141.8L624.5 136.6L624.6 131.5L624.3 126.3L624.4 121.1L624.4 116.0L624.9 110.8L624.6 105.7Z" fill="#fabf2d"/><path d="M648.0 100.7L651.7 100.8L655.4 101.1L659.0 100.2L662.7 100.8L666.4 101.2L670.1 101.2L669.5 105.7L670.3 110.8L670.2 116.0L670.1 121.1L670.8 126.3L670.1 131.5L670.0 136.6L670.8 141.8L670.3 146.9L669.7 152.1L666.4 151.7L662.7 152.0L659.0 151.3L655.4 152.2L651.7 152.5L648.0 151.9L648.6 146.9L648.8 141.8L648.1 136.6L648.4 131.5L647.4 126.3L647.3 121.1L648.9 116.0L647.7 110.8L647.6 105.7Z" fill="#fabf2d"/><rect x="616.1" y="110.9" width="9.8" height="36.8" fill="#000"/><rect x="627.9" y="110.9" width="9.5" height="36.8" fill="#000"/>
<clipPath id="hce"><rect x="499.1" y="17.6" width="94" height="138.8"/></clipPath>
<clipPath id="hhe"><rect x="480" y="17.6" width="19.1" height="138.8"/></clipPath>
<path d="M484.0 63.4C486.5 63.6 493.3 64.0 499.0 64.5C504.7 65.0 510.2 65.8 518.0 66.6C525.8 67.4 538.2 68.2 546.0 69.6C553.8 71.0 559.3 72.8 565.0 74.8C570.7 76.8 575.3 79.2 580.0 81.3C584.7 83.4 591.0 86.5 593.2 87.6L676.0 27.3L676.0 59.4L593.4 115.0C590.6 112.8 583.1 106.0 576.9 101.8C570.7 97.5 561.1 92.3 556.0 89.5C550.9 86.7 552.3 87.0 546.0 85.2C539.7 83.4 525.8 80.0 518.0 78.6C510.2 77.1 504.7 77.0 499.0 76.5C493.3 76.0 486.5 75.9 484.0 75.8Z" fill="#babdbe" clip-path="url(#hce)"/>
<path d="M484.0 63.4C486.5 63.6 493.3 64.0 499.0 64.5C504.7 65.0 510.2 65.8 518.0 66.6C525.8 67.4 538.2 68.2 546.0 69.6C553.8 71.0 559.3 72.8 565.0 74.8C570.7 76.8 575.3 79.2 580.0 81.3C584.7 83.4 591.0 86.5 593.2 87.6L676.0 27.3L676.0 59.4L593.4 115.0C590.6 112.8 583.1 106.0 576.9 101.8C570.7 97.5 561.1 92.3 556.0 89.5C550.9 86.7 552.3 87.0 546.0 85.2C539.7 83.4 525.8 80.0 518.0 78.6C510.2 77.1 504.7 77.0 499.0 76.5C493.3 76.0 486.5 75.9 484.0 75.8Z" fill="#babdbe" fill-opacity="0.4" clip-path="url(#hhe)"/>
<clipPath id="c2e"><rect x="544.9" y="17.6" width="47.8" height="138.8"/></clipPath>
<path d="M484.0 63.4C486.5 63.6 493.3 64.0 499.0 64.5C504.7 65.0 510.2 65.8 518.0 66.6C525.8 67.4 538.2 68.2 546.0 69.6C553.8 71.0 559.3 72.8 565.0 74.8C570.7 76.8 575.3 79.2 580.0 81.3C584.7 83.4 591.0 86.5 593.2 87.6L676.0 27.3L676.0 59.4L593.4 115.0C590.6 112.8 583.1 106.0 576.9 101.8C570.7 97.5 561.1 92.3 556.0 89.5C550.9 86.7 552.3 87.0 546.0 85.2C539.7 83.4 525.8 80.0 518.0 78.6C510.2 77.1 504.7 77.0 499.0 76.5C493.3 76.0 486.5 75.9 484.0 75.8Z" fill="#b1b2b2" clip-path="url(#c2e)"/>
<clipPath id="fpe"><rect x="592.7" y="17.6" width="100" height="138.8"/></clipPath>
<path d="M484.0 63.4C486.5 63.6 493.3 64.0 499.0 64.5C504.7 65.0 510.2 65.8 518.0 66.6C525.8 67.4 538.2 68.2 546.0 69.6C553.8 71.0 559.3 72.8 565.0 74.8C570.7 76.8 575.3 79.2 580.0 81.3C584.7 83.4 591.0 86.5 593.2 87.6L676.0 27.3L676.0 59.4L593.4 115.0C590.6 112.8 583.1 106.0 576.9 101.8C570.7 97.5 561.1 92.3 556.0 89.5C550.9 86.7 552.3 87.0 546.0 85.2C539.7 83.4 525.8 80.0 518.0 78.6C510.2 77.1 504.7 77.0 499.0 76.5C493.3 76.0 486.5 75.9 484.0 75.8Z" fill="#b9b9b9" clip-path="url(#fpe)"/>
<path d="M518.3 53.2L544.9 53.6L544.9 97L518.3 89.3Z" fill="#cb5659"/><rect x="518.3" y="89" width="26.6" height="70" fill="#dfa2a4" /><path d="M518.3 89.3L544.9 97L544.9 88L518.3 88Z" fill="#cb5659"/><path d="M518.3 109L544.9 100.4L544.9 117.6L518.3 122.5Z" fill="#f28c8c"/><path d="M518.3 109L544.9 100.4M544.9 117.6L518.3 122.5" fill="none" stroke="#5a2020" stroke-width="0.8"/><path d="M518.3 114.5L544.9 107.1" stroke="#e8352f" stroke-width="1.8" fill="none"/><rect x="517.6" y="95" width="0.9" height="40" fill="#d3d5d5"/>
<path d="M484.0 63.4C486.5 63.6 493.3 64.0 499.0 64.5C504.7 65.0 515.1 66.2 518.3 66.6" fill="none" stroke="#868e91" stroke-width="2.0"/><path d="M484.0 75.8C486.5 75.9 493.3 76.0 499.0 76.5C504.7 77.0 515.1 78.2 518.3 78.6" fill="none" stroke="#6f7779" stroke-width="1.4" stroke-dasharray="1.6 1.3"/><path d="M484.0 77.2C486.5 77.3 493.3 77.4 499.0 77.9C504.7 78.4 515.1 79.7 518.3 80.0" fill="none" stroke="#e9ecec" stroke-width="0.8"/><path d="M518.3 72.1Q533 76 544.9 83.4" fill="none" stroke="#8e1c20" stroke-width="1.5"/><path d="M518.3 50.0Q533 49.6 544.9 50.6" fill="none" stroke="#f6cfcf" stroke-width="1.4"/><path d="M518.3 52.4Q533 51.8 544.9 52.9" fill="none" stroke="#e8352f" stroke-width="2.1"/><path d="M544.9 69.4C548.2 70.3 559.1 72.8 565.0 74.8C570.9 76.8 575.3 79.2 580.0 81.3C584.7 83.4 591.0 86.5 593.2 87.6" fill="none" stroke="#9a9c9c" stroke-width="0.9"/><path d="M544.9 73.2C546.9 73.9 552.7 75.7 557.0 77.6C561.3 79.5 566.5 82.4 570.7 84.6C574.9 86.8 578.9 89.2 582.0 91.0C585.1 92.8 587.1 94.4 589.1 95.6C591.1 96.8 593.2 97.9 594.0 98.4" fill="none" stroke="#868888" stroke-width="1.7"/><path d="M544.9 84.8C546.8 85.6 550.7 86.7 556.0 89.5C561.3 92.3 570.7 97.5 576.9 101.8C583.1 106.0 590.6 112.8 593.4 115.0" fill="none" stroke="#8e9090" stroke-width="1.0"/><path d="M593.2 87.6L676 27.3" stroke="#5c5c5c" stroke-width="0.8" fill="none"/><path d="M593.4 115.0L676 59.4" stroke="#5c5c5c" stroke-width="0.8" fill="none"/><path d="M594.6 98.2L676 40.4" stroke="#0a0a0a" stroke-width="2.3" fill="none"/><path d="M505.6 78.3V85.8M563.3 85V98M532.3 105.3V121.3" stroke="#111" stroke-width="1.1" fill="none"/><path d="M547 30.5L539.4 37.9M551.2 51.4L543 58.4" stroke="#111" stroke-width="1.2" fill="none"/>
<path d="M484.8 54.2L490.2 51.5L490.2 56.9Z" fill="#fff" stroke="#75797b" stroke-width="1.1"/><path d="M489.1 54.3L494.5 51.6L494.5 57.0Z" fill="#fff" stroke="#75797b" stroke-width="1.1"/><path d="M493.4 54.3L498.8 51.6L498.8 57.0Z" fill="#fff" stroke="#75797b" stroke-width="1.1"/><path d="M497.7 54.4L503.1 51.7L503.1 57.1Z" fill="#fff" stroke="#75797b" stroke-width="1.1"/><path d="M502.0 54.4L507.4 51.7L507.4 57.1Z" fill="#fff" stroke="#75797b" stroke-width="1.1"/><path d="M506.3 54.5L511.7 51.8L511.7 57.2Z" fill="#fff" stroke="#75797b" stroke-width="1.1"/><path d="M510.6 54.5L516.0 51.8L516.0 57.2Z" fill="#fff" stroke="#75797b" stroke-width="1.1"/><path d="M487.0 46.2L490.7 52.4L483.3 52.4Z" fill="#fff" stroke="#75797b" stroke-width="1.0"/><path d="M491.3 46.3L495.0 52.5L487.6 52.5Z" fill="#fff" stroke="#75797b" stroke-width="1.0"/><path d="M495.6 46.3L499.3 52.5L491.9 52.5Z" fill="#fff" stroke="#75797b" stroke-width="1.0"/><path d="M499.9 46.3L503.6 52.5L496.2 52.5Z" fill="#fff" stroke="#75797b" stroke-width="1.0"/><path d="M504.2 46.4L507.9 52.6L500.5 52.6Z" fill="#fff" stroke="#75797b" stroke-width="1.0"/><path d="M508.5 46.4L512.2 52.6L504.8 52.6Z" fill="#fff" stroke="#75797b" stroke-width="1.0"/><path d="M512.8 46.5L516.5 52.7L509.1 52.7Z" fill="#fff" stroke="#75797b" stroke-width="1.0"/><path d="M548.5 58.2L552.2 64.4L544.8 64.4Z" fill="#fff" stroke="#75797b" stroke-width="1.0"/><path d="M552.8 58.8L556.5 65.0L549.1 65.0Z" fill="#fff" stroke="#75797b" stroke-width="1.0"/><path d="M557.1 59.4L560.8 65.6L553.4 65.6Z" fill="#fff" stroke="#75797b" stroke-width="1.0"/><path d="M561.4 60.2L565.1 66.4L557.7 66.4Z" fill="#fff" stroke="#75797b" stroke-width="1.0"/><path d="M565.7 62.5L569.4 68.7L562.0 68.7Z" fill="#fff" stroke="#75797b" stroke-width="1.0"/><path d="M570.0 64.8L573.7 71.0L566.3 71.0Z" fill="#fff" stroke="#75797b" stroke-width="1.0"/><path d="M574.3 67.1L578.0 73.3L570.6 73.3Z" fill="#fff" stroke="#75797b" stroke-width="1.0"/><path d="M578.6 69.6L582.3 75.8L574.9 75.8Z" fill="#fff" stroke="#75797b" stroke-width="1.0"/><path d="M582.9 72.0L586.6 78.2L579.2 78.2Z" fill="#fff" stroke="#75797b" stroke-width="1.0"/><path d="M587.2 74.4L590.9 80.6L583.5 80.6Z" fill="#fff" stroke="#75797b" stroke-width="1.0"/><path d="M591.5 76.8L595.2 83.0L587.8 83.0Z" fill="#fff" stroke="#75797b" stroke-width="1.0"/><path d="M567.2 72.8L573.6 69.6L573.6 76.0Z" fill="#fff" stroke="#75797b" stroke-width="1.0"/><path d="M562.6 72.2L569.4 68.8L569.4 75.6Z" fill="#fff" stroke="#75797b" stroke-width="1.0"/><path d="M558.2 72.2L565.0 68.8L565.0 75.6Z" fill="#fff" stroke="#75797b" stroke-width="1.0"/><path d="M556.6 68.4L560.8 72.6L556.6 76.8L552.4 72.6Z" fill="#fff" stroke="#75797b" stroke-width="1.0"/><path d="M593.7 81.9L599.3 79.1L599.3 84.7Z" fill="#fff" stroke="#75797b" stroke-width="1.1"/><path d="M598.0 78.8L603.6 76.0L603.6 81.6Z" fill="#fff" stroke="#75797b" stroke-width="1.1"/><path d="M602.3 75.6L607.9 72.8L607.9 78.4Z" fill="#fff" stroke="#75797b" stroke-width="1.1"/><path d="M606.6 72.5L612.2 69.7L612.2 75.3Z" fill="#fff" stroke="#75797b" stroke-width="1.1"/><path d="M610.9 69.3L616.5 66.5L616.5 72.1Z" fill="#fff" stroke="#75797b" stroke-width="1.1"/><path d="M615.2 66.2L620.8 63.4L620.8 69.0Z" fill="#fff" stroke="#75797b" stroke-width="1.1"/><path d="M619.5 63.0L625.1 60.2L625.1 65.8Z" fill="#fff" stroke="#75797b" stroke-width="1.1"/><path d="M623.8 59.9L629.4 57.1L629.4 62.7Z" fill="#fff" stroke="#75797b" stroke-width="1.1"/><path d="M628.1 56.7L633.7 53.9L633.7 59.5Z" fill="#fff" stroke="#75797b" stroke-width="1.1"/><path d="M632.4 53.6L638.0 50.8L638.0 56.4Z" fill="#fff" stroke="#75797b" stroke-width="1.1"/><path d="M636.7 50.4L642.3 47.6L642.3 53.2Z" fill="#fff" stroke="#75797b" stroke-width="1.1"/><path d="M641.0 47.3L646.6 44.5L646.6 50.1Z" fill="#fff" stroke="#75797b" stroke-width="1.1"/><path d="M645.3 44.1L650.9 41.3L650.9 46.9Z" fill="#fff" stroke="#75797b" stroke-width="1.1"/><path d="M649.6 41.0L655.2 38.2L655.2 43.8Z" fill="#fff" stroke="#75797b" stroke-width="1.1"/><path d="M595.5 75.7L599.2 81.9L591.8 81.9Z" fill="#fff" stroke="#75797b" stroke-width="1.0"/><path d="M599.8 72.5L603.5 78.7L596.1 78.7Z" fill="#fff" stroke="#75797b" stroke-width="1.0"/><path d="M604.1 69.4L607.8 75.6L600.4 75.6Z" fill="#fff" stroke="#75797b" stroke-width="1.0"/><path d="M608.4 66.2L612.1 72.4L604.7 72.4Z" fill="#fff" stroke="#75797b" stroke-width="1.0"/><path d="M612.7 63.1L616.4 69.3L609.0 69.3Z" fill="#fff" stroke="#75797b" stroke-width="1.0"/><path d="M617.0 59.9L620.7 66.1L613.3 66.1Z" fill="#fff" stroke="#75797b" stroke-width="1.0"/><path d="M621.3 56.8L625.0 63.0L617.6 63.0Z" fill="#fff" stroke="#75797b" stroke-width="1.0"/><path d="M625.6 53.6L629.3 59.8L621.9 59.8Z" fill="#fff" stroke="#75797b" stroke-width="1.0"/><path d="M629.9 50.5L633.6 56.7L626.2 56.7Z" fill="#fff" stroke="#75797b" stroke-width="1.0"/><path d="M634.2 47.3L637.9 53.5L630.5 53.5Z" fill="#fff" stroke="#75797b" stroke-width="1.0"/><path d="M638.5 44.2L642.2 50.4L634.8 50.4Z" fill="#fff" stroke="#75797b" stroke-width="1.0"/><path d="M642.8 41.0L646.5 47.2L639.1 47.2Z" fill="#fff" stroke="#75797b" stroke-width="1.0"/><path d="M647.1 37.9L650.8 44.1L643.4 44.1Z" fill="#fff" stroke="#75797b" stroke-width="1.0"/><path d="M651.4 34.7L655.1 40.9L647.7 40.9Z" fill="#fff" stroke="#75797b" stroke-width="1.0"/><path d="M655.7 31.5L659.4 37.7L652.0 37.7Z" fill="#fff" stroke="#75797b" stroke-width="1.0"/><path d="M660.0 28.4L663.7 34.6L656.3 34.6Z" fill="#fff" stroke="#75797b" stroke-width="1.0"/><path d="M664.3 25.2L668.0 31.4L660.6 31.4Z" fill="#fff" stroke="#75797b" stroke-width="1.0"/><path d="M520.0 51.6L521.2 54.8L524.7 55.0L522.0 57.1L522.9 60.5L520.0 58.6L517.1 60.5L518.0 57.1L515.3 55.0L518.8 54.8Z" fill="#fff" stroke="#7a1518" stroke-width="1.1"/><path d="M524.0 53.1L525.2 56.3L528.7 56.5L526.0 58.6L526.9 61.9L524.0 60.1L521.1 61.9L522.0 58.6L519.3 56.5L522.8 56.3Z" fill="#fff" stroke="#7a1518" stroke-width="1.1"/><path d="M528.0 54.6L529.2 57.8L532.7 57.9L530.0 60.1L530.9 63.4L528.0 61.6L525.1 63.4L526.0 60.1L523.3 57.9L526.8 57.8Z" fill="#fff" stroke="#7a1518" stroke-width="1.1"/><path d="M532.0 56.0L533.2 59.2L536.7 59.4L534.0 61.6L534.9 64.9L532.0 63.0L529.1 64.9L530.0 61.6L527.3 59.4L530.8 59.2Z" fill="#fff" stroke="#7a1518" stroke-width="1.1"/><path d="M536.0 57.5L537.2 60.7L540.7 60.9L538.0 63.1L538.9 66.4L536.0 64.5L533.1 66.4L534.0 63.1L531.3 60.9L534.8 60.7Z" fill="#fff" stroke="#7a1518" stroke-width="1.1"/><path d="M540.0 59.0L541.2 62.2L544.7 62.4L542.0 64.6L542.9 67.9L540.0 66.0L537.1 67.9L538.0 64.6L535.3 62.4L538.8 62.2Z" fill="#fff" stroke="#7a1518" stroke-width="1.1"/><path d="M544.0 60.4L545.2 63.6L548.7 63.8L546.0 65.9L546.9 69.3L544.0 67.4L541.1 69.3L542.0 65.9L539.3 63.8L542.8 63.6Z" fill="#fff" stroke="#7a1518" stroke-width="1.1"/><path d="M519.3 47.0L523.9 51.6L519.3 56.2L514.7 51.6Z" fill="#fff" stroke="#e23a33" stroke-width="1.5"/><path d="M523.1 45.1L527.7 49.7L523.1 54.3L518.5 49.7Z" fill="#fff" stroke="#e23a33" stroke-width="1.5"/><path d="M526.9 43.3L531.5 47.9L526.9 52.5L522.3 47.9Z" fill="#fff" stroke="#e23a33" stroke-width="1.5"/><path d="M530.7 41.5L535.3 46.1L530.7 50.7L526.1 46.1Z" fill="#fff" stroke="#e23a33" stroke-width="1.5"/><path d="M534.5 39.6L539.1 44.2L534.5 48.8L529.9 44.2Z" fill="#fff" stroke="#e23a33" stroke-width="1.5"/><path d="M538.3 37.8L542.9 42.4L538.3 47.0L533.7 42.4Z" fill="#fff" stroke="#e23a33" stroke-width="1.5"/><path d="M533.2 93.5L541.6 89.3L541.6 97.7Z" fill="#fff" stroke="#e23a33" stroke-width="1.0"/><path d="M529.5 95.0L537.9 90.8L537.9 99.2Z" fill="#fff" stroke="#e23a33" stroke-width="1.0"/><path d="M525.8 96.4L534.2 92.2L534.2 100.6Z" fill="#fff" stroke="#e23a33" stroke-width="1.0"/><path d="M522.1 97.8L530.5 93.6L530.5 102.0Z" fill="#fff" stroke="#e23a33" stroke-width="1.0"/><path d="M518.4 99.3L526.8 95.1L526.8 103.5Z" fill="#fff" stroke="#e23a33" stroke-width="1.0"/><path d="M517.8 95.9L522.1 100.2L517.8 104.5L513.5 100.2Z" fill="#fff" stroke="#e23a33" stroke-width="1.3"/><path d="M543.3 91.5L547.1 99.1L539.5 99.1Z" fill="#fff" stroke="#e23a33" stroke-width="1.2"/><path d="M547.8 86.7L552.3 91.2L547.8 95.7L543.3 91.2Z" fill="#fff" stroke="#e23a33" stroke-width="1.4"/><path d="M553.2 82.9L557.7 87.4L553.2 91.9L548.7 87.4Z" fill="#fff" stroke="#e23a33" stroke-width="1.4"/><path d="M632.8 97.4L638.4 103.0L632.8 108.6L627.2 103.0Z" fill="#fff" stroke="#7d7d7d" stroke-width="1.3"/><path d="M607.9 116.5L612.7 126.1L603.1 126.1Z" fill="#fff" stroke="#8a8a8a" stroke-width="1.3"/><path d="M607.9 130.0L609.3 133.5L613.0 133.7L610.1 136.1L611.1 139.8L607.9 137.7L604.7 139.8L605.7 136.1L602.8 133.7L606.5 133.5Z" fill="#fff" stroke="#7a1518" stroke-width="1.6"/>
</g>
<circle cx="489.6" cy="49.6" r="12.6" fill="none" stroke="#c9a548" stroke-opacity="0.9" stroke-width="3.3"/>
<rect x="484.8" y="17.6" width="188.6" height="138.8" fill="none" stroke="#1a1a1a" stroke-width="1.1"/>
<path d="M538.8 17.6v3M538.8 156.4v-3M592.7 17.6v3M592.7 156.4v-3M646.7 17.6v3M646.7 156.4v-3M484.8 116.3h3M673.4 116.3h-3M484.8 76.2h3M673.4 76.2h-3M484.8 36.1h3M673.4 36.1h-3" stroke="#1a1a1a" stroke-width="1" fill="none"/>
<clipPath id="clipf"><rect x="484.8" y="161.6" width="188.6" height="138.3"/></clipPath>
<g clip-path="url(#clipf)">
<rect x="484.8" y="161.6" width="14.3" height="138.3" fill="#8fa8ac"/>
<rect x="499.1" y="161.6" width="93.6" height="138.3" fill="#d3d5d5"/>
<rect x="528.2" y="161.6" width="16.3" height="138.3" fill="#da8f91"/>
<path d="M595.6 242.0L599.3 241.8L603.0 241.7L606.7 243.0L610.3 242.4L614.0 242.6L617.7 242.3L617.5 247.3L618.0 252.5L617.8 257.6L618.1 262.8L617.9 267.9L618.2 273.1L617.5 278.2L617.1 283.4L617.1 288.6L618.0 293.7L614.0 293.1L610.3 293.9L606.7 293.9L603.0 292.9L599.3 294.1L595.6 292.9L596.3 288.6L596.2 283.4L595.2 278.2L596.0 273.1L596.0 267.9L595.0 262.8L595.9 257.6L595.0 252.5L596.4 247.3Z" fill="#fabf2d"/><path d="M625.1 242.5L627.5 241.4L630.0 241.9L632.5 241.8L634.9 242.7L637.3 242.6L639.8 242.9L639.0 247.3L639.6 252.5L639.0 257.6L639.3 262.8L639.8 267.9L638.9 273.1L639.2 278.2L640.0 283.4L639.8 288.6L639.3 293.7L637.3 293.8L634.9 294.2L632.5 292.8L630.0 294.2L627.5 294.0L625.1 293.4L624.6 288.6L625.9 283.4L624.9 278.2L624.5 273.1L624.5 267.9L625.7 262.8L625.3 257.6L625.7 252.5L625.5 247.3Z" fill="#fabf2d"/><path d="M648.0 241.5L651.7 242.6L655.4 241.6L659.0 242.2L662.7 242.5L666.4 242.7L670.1 242.2L670.0 247.3L669.2 252.5L669.9 257.6L669.8 262.8L670.6 267.9L670.1 273.1L670.5 278.2L669.9 283.4L669.5 288.6L670.6 293.7L666.4 294.2L662.7 293.4L659.0 293.0L655.4 293.7L651.7 293.6L648.0 294.1L648.2 288.6L648.1 283.4L648.2 278.2L647.8 273.1L647.3 267.9L647.3 262.8L648.8 257.6L648.6 252.5L647.7 247.3Z" fill="#fabf2d"/><rect x="613.6" y="264" width="37.4" height="9.3" fill="#000"/>
<clipPath id="hcf"><rect x="499.1" y="161.6" width="94" height="138.3"/></clipPath>
<clipPath id="hhf"><rect x="480" y="161.6" width="19.1" height="138.3"/></clipPath>
<path d="M484.0 191.9C487.7 192.1 498.7 192.4 506.0 193.0C513.3 193.6 521.5 194.2 528.0 195.3C534.5 196.4 539.7 197.6 545.0 199.5C550.3 201.4 555.0 203.7 560.0 206.5C565.0 209.3 569.7 212.4 575.0 216.5C580.3 220.6 589.2 228.5 592.0 230.9L676.0 168.9L676.0 199.9L595.3 258.6C593.1 256.9 586.4 251.5 582.0 248.5C577.6 245.5 573.3 243.0 569.1 240.6C564.9 238.2 561.0 236.1 557.0 234.3C553.0 232.5 549.8 231.4 545.0 230.0C540.2 228.6 534.5 226.9 528.0 225.8C521.5 224.7 513.3 224.1 506.0 223.6C498.7 223.1 487.7 222.9 484.0 222.8Z" fill="#babdbe" clip-path="url(#hcf)"/>
<path d="M484.0 191.9C487.7 192.1 498.7 192.4 506.0 193.0C513.3 193.6 521.5 194.2 528.0 195.3C534.5 196.4 539.7 197.6 545.0 199.5C550.3 201.4 555.0 203.7 560.0 206.5C565.0 209.3 569.7 212.4 575.0 216.5C580.3 220.6 589.2 228.5 592.0 230.9L676.0 168.9L676.0 199.9L595.3 258.6C593.1 256.9 586.4 251.5 582.0 248.5C577.6 245.5 573.3 243.0 569.1 240.6C564.9 238.2 561.0 236.1 557.0 234.3C553.0 232.5 549.8 231.4 545.0 230.0C540.2 228.6 534.5 226.9 528.0 225.8C521.5 224.7 513.3 224.1 506.0 223.6C498.7 223.1 487.7 222.9 484.0 222.8Z" fill="#babdbe" fill-opacity="1" clip-path="url(#hhf)"/>
<clipPath id="c2f"><rect x="544.5" y="161.6" width="48.2" height="138.3"/></clipPath>
<path d="M484.0 191.9C487.7 192.1 498.7 192.4 506.0 193.0C513.3 193.6 521.5 194.2 528.0 195.3C534.5 196.4 539.7 197.6 545.0 199.5C550.3 201.4 555.0 203.7 560.0 206.5C565.0 209.3 569.7 212.4 575.0 216.5C580.3 220.6 589.2 228.5 592.0 230.9L676.0 168.9L676.0 199.9L595.3 258.6C593.1 256.9 586.4 251.5 582.0 248.5C577.6 245.5 573.3 243.0 569.1 240.6C564.9 238.2 561.0 236.1 557.0 234.3C553.0 232.5 549.8 231.4 545.0 230.0C540.2 228.6 534.5 226.9 528.0 225.8C521.5 224.7 513.3 224.1 506.0 223.6C498.7 223.1 487.7 222.9 484.0 222.8Z" fill="#b1b2b2" clip-path="url(#c2f)"/>
<clipPath id="fpf"><rect x="592.7" y="161.6" width="100" height="138.3"/></clipPath>
<path d="M484.0 191.9C487.7 192.1 498.7 192.4 506.0 193.0C513.3 193.6 521.5 194.2 528.0 195.3C534.5 196.4 539.7 197.6 545.0 199.5C550.3 201.4 555.0 203.7 560.0 206.5C565.0 209.3 569.7 212.4 575.0 216.5C580.3 220.6 589.2 228.5 592.0 230.9L676.0 168.9L676.0 199.9L595.3 258.6C593.1 256.9 586.4 251.5 582.0 248.5C577.6 245.5 573.3 243.0 569.1 240.6C564.9 238.2 561.0 236.1 557.0 234.3C553.0 232.5 549.8 231.4 545.0 230.0C540.2 228.6 534.5 226.9 528.0 225.8C521.5 224.7 513.3 224.1 506.0 223.6C498.7 223.1 487.7 222.9 484.0 222.8Z" fill="#b9b9b9" clip-path="url(#fpf)"/>
<path d="M528.2 196L544.5 196.4V201.5H528.2Z" fill="#f4b0b0"/><path d="M528.2 207L544.5 207.6V241.4L528.2 236.5Z" fill="#cb5659"/><path d="M528.2 236.5L544.5 241.4V301H528.2Z" fill="#dfa2a4"/><path d="M528.2 252.0L544.5 248.8V260.2L528.2 264.3Z" fill="#f28c8c"/><path d="M528.2 264.3L544.5 260.2" stroke="#5a1c1c" stroke-width="0.8"/><path d="M528.2 253.4L544.5 250.2" stroke="#e8352f" stroke-width="1.8"/>
<path d="M484.0 191.9C487.7 192.1 498.6 192.4 506.0 193.0C513.4 193.6 524.5 194.9 528.2 195.3" fill="none" stroke="#5f6668" stroke-width="1.1"/><path d="M484.0 220.8C487.7 221.0 498.6 221.1 506.0 221.7C513.4 222.3 524.5 223.8 528.2 224.2" fill="none" stroke="#6c7275" stroke-width="2.0"/><path d="M528.2 195.6L544.5 196.2" stroke="#e8352f" stroke-width="1.5"/><path d="M528.2 236.5L544.5 241.4" stroke="#7a2a2a" stroke-width="0.8"/><path d="M528.2 207L544.5 215.5" stroke="#8e1c20" stroke-width="1.2"/><path d="M544.5 199.4C547.1 200.6 554.9 203.7 560.0 206.5C565.1 209.3 569.7 212.4 575.0 216.5C580.3 220.6 589.2 228.5 592.0 230.9" fill="none" stroke="#6a6c6c" stroke-width="0.9"/><path d="M544.5 217.6C547.1 218.5 554.9 220.8 560.0 223.0C565.1 225.2 570.8 228.2 575.0 230.5C579.2 232.8 582.0 234.8 585.0 236.6C588.0 238.4 591.7 240.8 593.0 241.6" fill="none" stroke="#868888" stroke-width="1.8"/><path d="M544.5 229.9C546.6 230.6 552.9 232.5 557.0 234.3C561.1 236.1 564.9 238.2 569.1 240.6C573.3 243.0 577.6 245.5 582.0 248.5C586.4 251.5 593.1 256.9 595.3 258.6" fill="none" stroke="#5c5e5e" stroke-width="1.0"/><path d="M592 230.9L676 168.9" stroke="#5c5c5c" stroke-width="0.8" fill="none"/><path d="M595.3 258.6L676 199.9" stroke="#5c5c5c" stroke-width="0.8" fill="none"/><path d="M594.2 241.3L676.0 182.6" stroke="#0a0a0a" stroke-width="2.3" fill="none"/><path d="M506.7 224.8V232.6M572 232.4V248" stroke="#111" stroke-width="1.1" fill="none"/>
<path d="M487.0 210.0L490.9 216.4L483.1 216.4Z" fill="#fff" stroke="#75797b" stroke-width="1.0"/><path d="M490.7 210.3L494.6 216.7L486.8 216.7Z" fill="#fff" stroke="#75797b" stroke-width="1.0"/><path d="M494.4 210.6L498.3 217.0L490.5 217.0Z" fill="#fff" stroke="#75797b" stroke-width="1.0"/><path d="M498.1 210.9L502.0 217.3L494.2 217.3Z" fill="#fff" stroke="#75797b" stroke-width="1.0"/><path d="M501.8 211.2L505.7 217.6L497.9 217.6Z" fill="#fff" stroke="#75797b" stroke-width="1.0"/><path d="M505.5 211.5L509.4 217.9L501.6 217.9Z" fill="#fff" stroke="#75797b" stroke-width="1.0"/><path d="M509.2 211.7L513.1 218.1L505.3 218.1Z" fill="#fff" stroke="#75797b" stroke-width="1.0"/><path d="M512.9 212.0L516.8 218.4L509.0 218.4Z" fill="#fff" stroke="#75797b" stroke-width="1.0"/><path d="M516.6 212.3L520.5 218.7L512.7 218.7Z" fill="#fff" stroke="#75797b" stroke-width="1.0"/><path d="M520.3 212.6L524.2 219.0L516.4 219.0Z" fill="#fff" stroke="#75797b" stroke-width="1.0"/><path d="M524.0 212.9L527.9 219.3L520.1 219.3Z" fill="#fff" stroke="#75797b" stroke-width="1.0"/><path d="M503.0 196.0L506.9 202.4L499.1 202.4Z" fill="#fff" stroke="#75797b" stroke-width="1.0"/><path d="M506.7 196.3L510.6 202.7L502.8 202.7Z" fill="#fff" stroke="#75797b" stroke-width="1.0"/><path d="M510.4 196.6L514.3 203.0L506.5 203.0Z" fill="#fff" stroke="#75797b" stroke-width="1.0"/><path d="M514.1 197.0L518.0 203.4L510.2 203.4Z" fill="#fff" stroke="#75797b" stroke-width="1.0"/><path d="M517.8 197.3L521.7 203.7L513.9 203.7Z" fill="#fff" stroke="#75797b" stroke-width="1.0"/><path d="M521.5 197.6L525.4 204.0L517.6 204.0Z" fill="#fff" stroke="#75797b" stroke-width="1.0"/><path d="M525.2 198.0L529.1 204.4L521.3 204.4Z" fill="#fff" stroke="#75797b" stroke-width="1.0"/><path d="M547.5 222.2L551.4 228.6L543.6 228.6Z" fill="#fff" stroke="#75797b" stroke-width="1.0"/><path d="M551.2 224.0L555.1 230.4L547.3 230.4Z" fill="#fff" stroke="#75797b" stroke-width="1.0"/><path d="M554.9 225.7L558.8 232.1L551.0 232.1Z" fill="#fff" stroke="#75797b" stroke-width="1.0"/><path d="M558.6 227.5L562.5 233.9L554.7 233.9Z" fill="#fff" stroke="#75797b" stroke-width="1.0"/><path d="M562.3 229.2L566.2 235.6L558.4 235.6Z" fill="#fff" stroke="#75797b" stroke-width="1.0"/><path d="M566.0 231.0L569.9 237.4L562.1 237.4Z" fill="#fff" stroke="#75797b" stroke-width="1.0"/><path d="M547.0 202.7L550.9 209.1L543.1 209.1Z" fill="#fff" stroke="#75797b" stroke-width="1.0"/><path d="M550.7 204.0L554.6 210.4L546.8 210.4Z" fill="#fff" stroke="#75797b" stroke-width="1.0"/><path d="M554.4 205.3L558.3 211.7L550.5 211.7Z" fill="#fff" stroke="#75797b" stroke-width="1.0"/><path d="M558.1 206.6L562.0 213.0L554.2 213.0Z" fill="#fff" stroke="#75797b" stroke-width="1.0"/><path d="M561.8 208.3L565.7 214.7L557.9 214.7Z" fill="#fff" stroke="#75797b" stroke-width="1.0"/><path d="M565.5 210.3L569.4 216.7L561.6 216.7Z" fill="#fff" stroke="#75797b" stroke-width="1.0"/><path d="M569.2 212.3L573.1 218.7L565.3 218.7Z" fill="#fff" stroke="#75797b" stroke-width="1.0"/><path d="M572.9 214.3L576.8 220.7L569.0 220.7Z" fill="#fff" stroke="#75797b" stroke-width="1.0"/><path d="M576.6 216.2L580.5 222.6L572.7 222.6Z" fill="#fff" stroke="#75797b" stroke-width="1.0"/><path d="M580.3 218.1L584.2 224.5L576.4 224.5Z" fill="#fff" stroke="#75797b" stroke-width="1.0"/><path d="M584.0 220.0L587.9 226.4L580.1 226.4Z" fill="#fff" stroke="#75797b" stroke-width="1.0"/><path d="M587.7 221.9L591.6 228.3L583.8 228.3Z" fill="#fff" stroke="#75797b" stroke-width="1.0"/><path d="M591.4 223.8L595.3 230.2L587.5 230.2Z" fill="#fff" stroke="#75797b" stroke-width="1.0"/><path d="M484.0 208.2C487.7 208.3 498.6 208.4 506.0 208.7C513.4 209.0 524.5 209.9 528.2 210.2" fill="none" stroke="#7a848a" stroke-width="1.5" stroke-dasharray="5 2.6"/><path d="M592.5 224.8L598.5 221.8L598.5 227.8Z" fill="#fff" stroke="#75797b" stroke-width="1.1"/><path d="M596.8 221.8L602.8 218.8L602.8 224.8Z" fill="#fff" stroke="#75797b" stroke-width="1.1"/><path d="M601.1 218.7L607.1 215.7L607.1 221.7Z" fill="#fff" stroke="#75797b" stroke-width="1.1"/><path d="M605.4 215.7L611.4 212.7L611.4 218.7Z" fill="#fff" stroke="#75797b" stroke-width="1.1"/><path d="M609.7 212.6L615.7 209.6L615.7 215.6Z" fill="#fff" stroke="#75797b" stroke-width="1.1"/><path d="M614.0 209.6L620.0 206.6L620.0 212.6Z" fill="#fff" stroke="#75797b" stroke-width="1.1"/><path d="M618.3 206.5L624.3 203.5L624.3 209.5Z" fill="#fff" stroke="#75797b" stroke-width="1.1"/><path d="M622.6 203.5L628.6 200.5L628.6 206.5Z" fill="#fff" stroke="#75797b" stroke-width="1.1"/><path d="M626.9 200.4L632.9 197.4L632.9 203.4Z" fill="#fff" stroke="#75797b" stroke-width="1.1"/><path d="M631.2 197.4L637.2 194.4L637.2 200.4Z" fill="#fff" stroke="#75797b" stroke-width="1.1"/><path d="M530.5 204.2L534.3 197.4L526.7 197.4Z" fill="#fff" stroke="#e23a33" stroke-width="1.2"/><path d="M533.8 204.4L537.6 197.6L530.0 197.6Z" fill="#fff" stroke="#e23a33" stroke-width="1.2"/><path d="M537.1 204.6L540.9 197.8L533.3 197.8Z" fill="#fff" stroke="#e23a33" stroke-width="1.2"/><path d="M540.4 204.8L544.2 198.0L536.6 198.0Z" fill="#fff" stroke="#e23a33" stroke-width="1.2"/><path d="M530.5 213.1L531.6 216.1L534.7 216.2L532.2 218.1L533.1 221.1L530.5 219.3L527.9 221.1L528.8 218.1L526.3 216.2L529.4 216.1Z" fill="#fff" stroke="#7a1518" stroke-width="1.2"/><path d="M533.9 214.6L535.0 217.5L538.1 217.6L535.6 219.5L536.5 222.5L533.9 220.8L531.3 222.5L532.2 219.5L529.7 217.6L532.8 217.5Z" fill="#fff" stroke="#7a1518" stroke-width="1.2"/><path d="M537.3 216.0L538.4 218.9L541.5 219.0L539.0 220.9L539.9 223.9L537.3 222.2L534.7 223.9L535.6 220.9L533.1 219.0L536.2 218.9Z" fill="#fff" stroke="#7a1518" stroke-width="1.2"/><path d="M540.7 217.4L541.8 220.3L544.9 220.4L542.4 222.4L543.3 225.4L540.7 223.6L538.1 225.4L539.0 222.4L536.5 220.4L539.6 220.3Z" fill="#fff" stroke="#7a1518" stroke-width="1.2"/><path d="M526.5 249.8L533.5 246.3L533.5 253.3Z" fill="#fff" stroke="#e23a33" stroke-width="1.1"/><path d="M529.8 248.6L536.8 245.1L536.8 252.1Z" fill="#fff" stroke="#e23a33" stroke-width="1.1"/><path d="M533.1 247.4L540.1 243.9L540.1 250.9Z" fill="#fff" stroke="#e23a33" stroke-width="1.1"/><path d="M541.0 242.5L544.3 249.1L537.7 249.1Z" fill="#fff" stroke="#e23a33" stroke-width="1.1"/>
</g>
<circle cx="487.2" cy="213.2" r="12.6" fill="none" stroke="#f2c44a" stroke-opacity="0.8" stroke-width="3.4"/>
<rect x="484.8" y="161.6" width="188.6" height="138.3" fill="none" stroke="#1a1a1a" stroke-width="1.1"/>
<path d="M538.8 161.6v3M538.8 299.9v-3M592.7 161.6v3M592.7 299.9v-3M646.7 161.6v3M646.7 299.9v-3M484.8 260.1h3M673.4 260.1h-3M484.8 220.4h3M673.4 220.4h-3M484.8 180.6h3M673.4 180.6h-3" stroke="#1a1a1a" stroke-width="1" fill="none"/>
<clipPath id="clipg"><rect x="484.8" y="305.7" width="188.6" height="138.0"/></clipPath>
<g clip-path="url(#clipg)">
<rect x="484.8" y="305.7" width="14.3" height="138.0" fill="#8fa8ac"/>
<rect x="499.1" y="305.7" width="93.6" height="138.0" fill="#d3d5d5"/>
<rect x="528.2" y="305.7" width="13.9" height="138.0" fill="#da8f91"/>
<path d="M594.8 385.1L598.5 385.6L602.2 385.0L605.8 386.1L609.5 385.1L613.2 385.6L616.9 386.3L616.7 390.6L617.6 395.8L617.2 400.9L616.9 406.1L617.1 411.2L617.0 416.4L616.6 421.6L617.7 426.7L616.7 431.9L617.7 437.0L613.2 437.5L609.5 436.1L605.8 436.5L602.2 436.9L598.5 437.5L594.8 436.4L595.0 431.9L594.6 426.7L595.3 421.6L595.6 416.4L595.3 411.2L594.3 406.1L595.3 400.9L594.7 395.8L595.4 390.6Z" fill="#fabf2d"/><path d="M623.5 386.4L626.1 384.8L628.7 385.9L631.2 385.5L633.8 386.3L636.4 385.4L639.0 386.3L638.4 390.6L639.8 395.8L638.8 400.9L638.4 406.1L638.7 411.2L639.2 416.4L638.2 421.6L638.8 426.7L638.1 431.9L638.2 437.0L636.4 436.4L633.8 436.5L631.2 436.6L628.7 437.4L626.1 436.8L623.5 437.6L624.2 431.9L624.2 426.7L624.3 421.6L623.7 416.4L623.8 411.2L624.2 406.1L623.6 400.9L622.9 395.8L623.6 390.6Z" fill="#fabf2d"/><path d="M646.4 385.7L650.2 386.2L654.0 385.5L657.8 385.9L661.7 386.3L665.5 385.6L669.3 385.9L669.6 390.6L669.9 395.8L668.5 400.9L668.7 406.1L670.1 411.2L669.7 416.4L668.8 421.6L669.7 426.7L668.7 431.9L669.0 437.0L665.5 436.8L661.7 436.5L657.8 436.3L654.0 437.0L650.2 437.2L646.4 436.6L646.7 431.9L647.3 426.7L645.7 421.6L646.1 416.4L645.8 411.2L646.8 406.1L646.3 400.9L646.3 395.8L646.0 390.6Z" fill="#fabf2d"/><rect x="604.3" y="406.2" width="57.8" height="9.2" fill="#000" transform="rotate(-37.5 633.2 410.8)"/><path d="M642.6 437.8V419M637.4 434.6H657.5" stroke="#808080" stroke-width="1.7" fill="none"/><path d="M642.6 412.3L646 420.3H639.2ZM664.6 434.6L656.6 431.3V437.9Z" fill="#808080"/><text x="646.6" y="423.3" style="font-family:'DejaVu Sans',sans-serif;font-style:italic;font-size:17.5px" fill="#808080" stroke="#808080" stroke-width="0.35">y</text><text x="660.4" y="430.2" style="font-family:'DejaVu Sans',sans-serif;font-style:italic;font-size:17.5px" fill="#808080" stroke="#808080" stroke-width="0.35">x</text>
<clipPath id="hcg"><rect x="499.1" y="305.7" width="94" height="138.0"/></clipPath>
<clipPath id="hhg"><rect x="480" y="305.7" width="19.1" height="138.0"/></clipPath>
<path d="M484.0 334.3C487.7 334.5 498.7 334.8 506.0 335.4C513.3 336.0 522.0 337.2 528.0 338.2C534.0 339.2 537.0 339.8 542.0 341.6C547.0 343.4 552.5 345.9 558.0 349.0C563.5 352.1 569.3 355.8 575.0 360.0C580.7 364.2 589.2 371.8 592.0 374.2L676.0 312.4L676.0 344.2L594.3 403.2C592.2 401.6 586.0 396.6 582.0 393.6C578.0 390.7 574.2 388.1 570.0 385.5C565.8 382.9 561.7 380.2 557.0 378.0C552.3 375.8 546.8 373.9 542.0 372.4C537.2 370.9 534.0 369.9 528.0 369.0C522.0 368.1 513.3 367.3 506.0 366.8C498.7 366.3 487.7 366.0 484.0 365.8Z" fill="#babdbe" clip-path="url(#hcg)"/>
<path d="M484.0 334.3C487.7 334.5 498.7 334.8 506.0 335.4C513.3 336.0 522.0 337.2 528.0 338.2C534.0 339.2 537.0 339.8 542.0 341.6C547.0 343.4 552.5 345.9 558.0 349.0C563.5 352.1 569.3 355.8 575.0 360.0C580.7 364.2 589.2 371.8 592.0 374.2L676.0 312.4L676.0 344.2L594.3 403.2C592.2 401.6 586.0 396.6 582.0 393.6C578.0 390.7 574.2 388.1 570.0 385.5C565.8 382.9 561.7 380.2 557.0 378.0C552.3 375.8 546.8 373.9 542.0 372.4C537.2 370.9 534.0 369.9 528.0 369.0C522.0 368.1 513.3 367.3 506.0 366.8C498.7 366.3 487.7 366.0 484.0 365.8Z" fill="#babdbe" fill-opacity="1" clip-path="url(#hhg)"/>
<clipPath id="c2g"><rect x="542.1" y="305.7" width="50.6" height="138.0"/></clipPath>
<path d="M484.0 334.3C487.7 334.5 498.7 334.8 506.0 335.4C513.3 336.0 522.0 337.2 528.0 338.2C534.0 339.2 537.0 339.8 542.0 341.6C547.0 343.4 552.5 345.9 558.0 349.0C563.5 352.1 569.3 355.8 575.0 360.0C580.7 364.2 589.2 371.8 592.0 374.2L676.0 312.4L676.0 344.2L594.3 403.2C592.2 401.6 586.0 396.6 582.0 393.6C578.0 390.7 574.2 388.1 570.0 385.5C565.8 382.9 561.7 380.2 557.0 378.0C552.3 375.8 546.8 373.9 542.0 372.4C537.2 370.9 534.0 369.9 528.0 369.0C522.0 368.1 513.3 367.3 506.0 366.8C498.7 366.3 487.7 366.0 484.0 365.8Z" fill="#b1b2b2" clip-path="url(#c2g)"/>
<clipPath id="fpg"><rect x="592.7" y="305.7" width="100" height="138.0"/></clipPath>
<path d="M484.0 334.3C487.7 334.5 498.7 334.8 506.0 335.4C513.3 336.0 522.0 337.2 528.0 338.2C534.0 339.2 537.0 339.8 542.0 341.6C547.0 343.4 552.5 345.9 558.0 349.0C563.5 352.1 569.3 355.8 575.0 360.0C580.7 364.2 589.2 371.8 592.0 374.2L676.0 312.4L676.0 344.2L594.3 403.2C592.2 401.6 586.0 396.6 582.0 393.6C578.0 390.7 574.2 388.1 570.0 385.5C565.8 382.9 561.7 380.2 557.0 378.0C552.3 375.8 546.8 373.9 542.0 372.4C537.2 370.9 534.0 369.9 528.0 369.0C522.0 368.1 513.3 367.3 506.0 366.8C498.7 366.3 487.7 366.0 484.0 365.8Z" fill="#b9b9b9" clip-path="url(#fpg)"/>
<path d="M528.2 339L542.1 339.4V344.5H528.2Z" fill="#f4b0b0"/><path d="M528.2 351.2L542.1 351.8V384.7L528.2 379.8Z" fill="#cb5659"/><path d="M528.2 379.8L542.1 384.7V445H528.2Z" fill="#dfa2a4"/><path d="M528.2 396.0L542.1 393.4V406.0L528.2 408.5Z" fill="#f28c8c"/><path d="M528.2 408.5L542.1 406.0" stroke="#5a1c1c" stroke-width="0.8"/><path d="M528.2 398.4L542.1 395.6" stroke="#e8352f" stroke-width="1.8"/>
<path d="M484.0 334.3C487.7 334.5 498.6 334.8 506.0 335.4C513.4 336.0 524.5 337.7 528.2 338.2" fill="none" stroke="#3c3c3c" stroke-width="1.0"/><path d="M484.0 350.4C487.7 350.6 498.6 350.8 506.0 351.4C513.4 352.0 524.5 353.6 528.2 354.0" fill="none" stroke="#80868a" stroke-width="2.0"/><path d="M484.0 365.8C487.7 366.0 498.6 366.3 506.0 366.8C513.4 367.3 524.5 368.6 528.2 369.0" fill="none" stroke="#3c3c3c" stroke-width="1.0"/><path d="M528.2 338.8L542.1 339.3" stroke="#5a1c1c" stroke-width="0.9"/><path d="M528.2 379.8L542.1 384.7" stroke="#5a1c1c" stroke-width="0.9"/><path d="M528.2 351.5L542.1 358.5" stroke="#8e1c20" stroke-width="1.2"/><path d="M542.1 341.6C544.8 342.8 552.5 345.9 558.0 349.0C563.5 352.1 569.3 355.8 575.0 360.0C580.7 364.2 589.2 371.8 592.0 374.2" fill="none" stroke="#5a5c5c" stroke-width="0.9"/><path d="M542.0 359.6C544.5 360.5 552.0 363.0 557.0 365.2C562.0 367.4 567.5 370.4 572.0 373.0C576.5 375.6 580.5 378.3 584.0 380.6C587.5 382.9 591.5 385.6 593.0 386.6" fill="none" stroke="#868888" stroke-width="1.8"/><path d="M542.1 372.4C544.6 373.3 552.4 375.8 557.0 378.0C561.6 380.2 565.8 382.9 570.0 385.5C574.2 388.1 578.0 390.7 582.0 393.6C586.0 396.6 592.2 401.6 594.3 403.2" fill="none" stroke="#4a4a4a" stroke-width="0.9"/><path d="M592 374.2L676 312.4" stroke="#5c5c5c" stroke-width="0.8" fill="none"/><path d="M594.3 403.2L676 344.2" stroke="#5c5c5c" stroke-width="0.8" fill="none"/><path d="M594.2 386.2L676.0 327.6" stroke="#0a0a0a" stroke-width="2.3" fill="none"/><path d="M506.7 365.8V372.2M567.6 373.3V388" stroke="#111" stroke-width="1.1" fill="none"/>
<path d="M487.0 355.1L490.9 361.5L483.1 361.5Z" fill="#fff" stroke="#75797b" stroke-width="1.0"/><path d="M490.7 355.5L494.6 361.9L486.8 361.9Z" fill="#fff" stroke="#75797b" stroke-width="1.0"/><path d="M494.4 355.9L498.3 362.3L490.5 362.3Z" fill="#fff" stroke="#75797b" stroke-width="1.0"/><path d="M498.1 356.3L502.0 362.7L494.2 362.7Z" fill="#fff" stroke="#75797b" stroke-width="1.0"/><path d="M501.8 356.7L505.7 363.1L497.9 363.1Z" fill="#fff" stroke="#75797b" stroke-width="1.0"/><path d="M505.5 357.0L509.4 363.4L501.6 363.4Z" fill="#fff" stroke="#75797b" stroke-width="1.0"/><path d="M509.2 357.4L513.1 363.8L505.3 363.8Z" fill="#fff" stroke="#75797b" stroke-width="1.0"/><path d="M512.9 357.8L516.8 364.2L509.0 364.2Z" fill="#fff" stroke="#75797b" stroke-width="1.0"/><path d="M516.6 358.2L520.5 364.6L512.7 364.6Z" fill="#fff" stroke="#75797b" stroke-width="1.0"/><path d="M520.3 358.6L524.2 365.0L516.4 365.0Z" fill="#fff" stroke="#75797b" stroke-width="1.0"/><path d="M524.0 359.0L527.9 365.4L520.1 365.4Z" fill="#fff" stroke="#75797b" stroke-width="1.0"/><path d="M487.0 338.6L490.9 345.0L483.1 345.0Z" fill="#fff" stroke="#75797b" stroke-width="1.0"/><path d="M490.7 338.8L494.6 345.2L486.8 345.2Z" fill="#fff" stroke="#75797b" stroke-width="1.0"/><path d="M494.4 339.0L498.3 345.4L490.5 345.4Z" fill="#fff" stroke="#75797b" stroke-width="1.0"/><path d="M498.1 339.2L502.0 345.6L494.2 345.6Z" fill="#fff" stroke="#75797b" stroke-width="1.0"/><path d="M501.8 339.4L505.7 345.8L497.9 345.8Z" fill="#fff" stroke="#75797b" stroke-width="1.0"/><path d="M505.5 339.6L509.4 346.0L501.6 346.0Z" fill="#fff" stroke="#75797b" stroke-width="1.0"/><path d="M509.2 339.8L513.1 346.2L505.3 346.2Z" fill="#fff" stroke="#75797b" stroke-width="1.0"/><path d="M512.9 340.0L516.8 346.4L509.0 346.4Z" fill="#fff" stroke="#75797b" stroke-width="1.0"/><path d="M516.6 340.2L520.5 346.6L512.7 346.6Z" fill="#fff" stroke="#75797b" stroke-width="1.0"/><path d="M520.3 340.4L524.2 346.8L516.4 346.8Z" fill="#fff" stroke="#75797b" stroke-width="1.0"/><path d="M524.0 340.6L527.9 347.0L520.1 347.0Z" fill="#fff" stroke="#75797b" stroke-width="1.0"/><path d="M545.0 367.1L548.9 373.5L541.1 373.5Z" fill="#fff" stroke="#75797b" stroke-width="1.0"/><path d="M548.7 368.6L552.6 375.0L544.8 375.0Z" fill="#fff" stroke="#75797b" stroke-width="1.0"/><path d="M552.4 370.2L556.3 376.6L548.5 376.6Z" fill="#fff" stroke="#75797b" stroke-width="1.0"/><path d="M556.1 371.8L560.0 378.2L552.2 378.2Z" fill="#fff" stroke="#75797b" stroke-width="1.0"/><path d="M545.0 346.2L548.9 352.6L541.1 352.6Z" fill="#fff" stroke="#75797b" stroke-width="1.0"/><path d="M548.7 347.5L552.6 353.9L544.8 353.9Z" fill="#fff" stroke="#75797b" stroke-width="1.0"/><path d="M552.4 348.8L556.3 355.2L548.5 355.2Z" fill="#fff" stroke="#75797b" stroke-width="1.0"/><path d="M556.1 350.1L560.0 356.5L552.2 356.5Z" fill="#fff" stroke="#75797b" stroke-width="1.0"/><path d="M559.8 351.7L563.7 358.1L555.9 358.1Z" fill="#fff" stroke="#75797b" stroke-width="1.0"/><path d="M563.5 353.6L567.4 360.0L559.6 360.0Z" fill="#fff" stroke="#75797b" stroke-width="1.0"/><path d="M567.2 355.5L571.1 361.9L563.3 361.9Z" fill="#fff" stroke="#75797b" stroke-width="1.0"/><path d="M570.9 357.3L574.8 363.7L567.0 363.7Z" fill="#fff" stroke="#75797b" stroke-width="1.0"/><path d="M574.6 359.2L578.5 365.6L570.7 365.6Z" fill="#fff" stroke="#75797b" stroke-width="1.0"/><path d="M578.3 361.0L582.2 367.4L574.4 367.4Z" fill="#fff" stroke="#75797b" stroke-width="1.0"/><path d="M582.0 362.9L585.9 369.3L578.1 369.3Z" fill="#fff" stroke="#75797b" stroke-width="1.0"/><path d="M585.7 364.7L589.6 371.1L581.8 371.1Z" fill="#fff" stroke="#75797b" stroke-width="1.0"/><path d="M589.4 366.5L593.3 372.9L585.5 372.9Z" fill="#fff" stroke="#75797b" stroke-width="1.0"/><path d="M592.5 368.5L598.5 365.5L598.5 371.5Z" fill="#fff" stroke="#75797b" stroke-width="1.1"/><path d="M596.8 365.5L602.8 362.5L602.8 368.5Z" fill="#fff" stroke="#75797b" stroke-width="1.1"/><path d="M601.1 362.4L607.1 359.4L607.1 365.4Z" fill="#fff" stroke="#75797b" stroke-width="1.1"/><path d="M605.4 359.4L611.4 356.4L611.4 362.4Z" fill="#fff" stroke="#75797b" stroke-width="1.1"/><path d="M609.7 356.3L615.7 353.3L615.7 359.3Z" fill="#fff" stroke="#75797b" stroke-width="1.1"/><path d="M614.0 353.3L620.0 350.3L620.0 356.3Z" fill="#fff" stroke="#75797b" stroke-width="1.1"/><path d="M618.3 350.2L624.3 347.2L624.3 353.2Z" fill="#fff" stroke="#75797b" stroke-width="1.1"/><path d="M622.6 347.1L628.6 344.1L628.6 350.1Z" fill="#fff" stroke="#75797b" stroke-width="1.1"/><path d="M626.9 344.1L632.9 341.1L632.9 347.1Z" fill="#fff" stroke="#75797b" stroke-width="1.1"/><path d="M530.5 348.9L534.3 342.1L526.7 342.1Z" fill="#fff" stroke="#e23a33" stroke-width="1.2"/><path d="M533.8 349.6L537.6 342.8L530.0 342.8Z" fill="#fff" stroke="#e23a33" stroke-width="1.2"/><path d="M537.1 350.3L540.9 343.6L533.3 343.6Z" fill="#fff" stroke="#e23a33" stroke-width="1.2"/><path d="M540.4 351.1L544.2 344.3L536.6 344.3Z" fill="#fff" stroke="#e23a33" stroke-width="1.2"/><path d="M530.5 360.8L531.6 363.7L534.7 363.8L532.2 365.7L533.1 368.7L530.5 367.0L527.9 368.7L528.8 365.7L526.3 363.8L529.4 363.7Z" fill="#fff" stroke="#7a1518" stroke-width="1.2"/><path d="M533.9 362.4L535.0 365.3L538.1 365.4L535.6 367.3L536.5 370.3L533.9 368.6L531.3 370.3L532.2 367.3L529.7 365.4L532.8 365.3Z" fill="#fff" stroke="#7a1518" stroke-width="1.2"/><path d="M537.3 364.0L538.4 366.9L541.5 367.0L539.0 368.9L539.9 371.9L537.3 370.2L534.7 371.9L535.6 368.9L533.1 367.0L536.2 366.9Z" fill="#fff" stroke="#7a1518" stroke-width="1.2"/><path d="M540.7 365.6L541.8 368.5L544.9 368.6L542.4 370.5L543.3 373.5L540.7 371.8L538.1 373.5L539.0 370.5L536.5 368.6L539.6 368.5Z" fill="#fff" stroke="#7a1518" stroke-width="1.2"/><path d="M530.2 387.7L533.9 395.1L526.5 395.1Z" fill="#fff" stroke="#e23a33" stroke-width="1.1"/><path d="M533.9 387.6L537.6 395.0L530.2 395.0Z" fill="#fff" stroke="#e23a33" stroke-width="1.1"/><path d="M537.6 387.5L541.3 394.9L533.9 394.9Z" fill="#fff" stroke="#e23a33" stroke-width="1.1"/><path d="M541.3 387.4L545.0 394.8L537.6 394.8Z" fill="#fff" stroke="#e23a33" stroke-width="1.1"/>
</g>
<ellipse cx="487.4" cy="350.8" rx="13.4" ry="20.4" fill="none" stroke="#f3c957" stroke-opacity="0.9" stroke-width="3.5"/>
<rect x="484.8" y="305.7" width="188.6" height="138.0" fill="none" stroke="#1a1a1a" stroke-width="1.1"/>
<path d="M538.8 305.7v3M538.8 443.7v-3M592.7 305.7v3M592.7 443.7v-3M646.7 305.7v3M646.7 443.7v-3M484.8 404.1h3M673.4 404.1h-3M484.8 364.4h3M673.4 364.4h-3M484.8 324.8h3M673.4 324.8h-3" stroke="#1a1a1a" stroke-width="1" fill="none"/>
<text x="484.0" y="14.8" text-anchor="start" style="font-family:'Liberation Sans',sans-serif;font-size:20.4px" fill="#5fa094"  stroke="#5fa094" stroke-width="0.35">H</text>
<text x="500.9" y="14.8" text-anchor="start" style="font-family:'Liberation Sans',sans-serif;font-size:20.4px" fill="#777"  stroke="#777" stroke-width="0.35">C</text>
<text x="517.3" y="14.8" text-anchor="start" style="font-family:'Liberation Sans',sans-serif;font-size:20.4px" fill="#d9312c"  stroke="#d9312c" stroke-width="0.35">SkL</text>
<text x="561.7" y="14.8" text-anchor="start" style="font-family:'Liberation Sans',sans-serif;font-size:20.4px" fill="#777"  stroke="#777" stroke-width="0.35">C</text>
<text x="622.6" y="14.6" text-anchor="start" style="font-family:'Liberation Sans',sans-serif;font-size:20.4px" fill="#111"  stroke="#111" stroke-width="0.35">FP</text>
<text x="547.6" y="33.0" text-anchor="start" style="font-family:'Liberation Sans',sans-serif;font-size:20.5px" fill="#111" textLength="93.2" lengthAdjust="spacingAndGlyphs"  stroke="#111" stroke-width="0.35">Clockwise</text>
<text x="546.4" y="48.8" text-anchor="start" style="font-family:'Liberation Sans',sans-serif;font-size:20.5px" fill="#111" textLength="87.4" lengthAdjust="spacingAndGlyphs"  stroke="#111" stroke-width="0.35">Breathing</text>
<text x="488.0" y="136.0" text-anchor="start" style="font-family:'Liberation Sans',sans-serif;font-size:20.5px" fill="#111" textLength="79.0" lengthAdjust="spacingAndGlyphs"  stroke="#111" stroke-width="0.35">Counter-</text>
<text x="488.6" y="151.2" text-anchor="start" style="font-family:'Liberation Sans',sans-serif;font-size:20.5px" fill="#111" textLength="87.5" lengthAdjust="spacingAndGlyphs"  stroke="#111" stroke-width="0.35">clockwise</text>
<text x="499.1" y="104.0" style="font-family:'Liberation Sans',sans-serif;font-size:20px;font-style:italic" fill="#111" stroke="#111" stroke-width="0.35">Q</text>
<text x="491.3" y="104.0" style="font-family:'Liberation Sans',sans-serif;font-size:22px" fill="#111" stroke="#111" stroke-width="0.35">-</text>
<text x="562.0" y="118.1" style="font-family:'Liberation Sans',sans-serif;font-size:20px;font-style:italic" fill="#111" stroke="#111" stroke-width="0.35">Q</text>
<text transform="translate(553.2,119.2) scale(1.2,1)" text-anchor="middle" style="font-family:'Liberation Sans',sans-serif;font-size:22.5px" fill="#111" stroke="none">+</text>
<text x="499.7" y="251.8" style="font-family:'Liberation Sans',sans-serif;font-size:20px;font-style:italic" fill="#111" stroke="#111" stroke-width="0.35">Q</text>
<text x="491.9" y="251.8" style="font-family:'Liberation Sans',sans-serif;font-size:22px" fill="#111" stroke="#111" stroke-width="0.35">-</text>
<text x="563.8" y="268.4" style="font-family:'Liberation Sans',sans-serif;font-size:20px;font-style:italic" fill="#111" stroke="#111" stroke-width="0.35">Q</text>
<text transform="translate(555.2,269.6) scale(1.2,1)" text-anchor="middle" style="font-family:'Liberation Sans',sans-serif;font-size:22.5px" fill="#111" stroke="none">+</text>
<text x="499.2" y="392.1" style="font-family:'Liberation Sans',sans-serif;font-size:20px;font-style:italic" fill="#111" stroke="#111" stroke-width="0.35">Q</text>
<text x="491.4" y="392.1" style="font-family:'Liberation Sans',sans-serif;font-size:22px" fill="#111" stroke="#111" stroke-width="0.35">-</text>
<text x="560.5" y="406.8" style="font-family:'Liberation Sans',sans-serif;font-size:20px;font-style:italic" fill="#111" stroke="#111" stroke-width="0.35">Q</text>
<text transform="translate(552.7,408.0) scale(1.2,1)" text-anchor="middle" style="font-family:'Liberation Sans',sans-serif;font-size:22.5px" fill="#111" stroke="none">+</text>
<text x="456.6" y="29.4" style="font-family:'DejaVu Sans',sans-serif;font-size:18px;font-weight:bold" fill="#000" stroke="#000" stroke-width="0.35">e</text>
<text x="459.4" y="180.2" style="font-family:'DejaVu Sans',sans-serif;font-size:18px;font-weight:bold" fill="#000" stroke="#000" stroke-width="0.35">f</text>
<text x="458.8" y="318.0" style="font-family:'DejaVu Sans',sans-serif;font-size:18px;font-weight:bold" fill="#000" stroke="#000" stroke-width="0.35">g</text>
<text x="482.6" y="82.8" text-anchor="end" style="font-family:'Liberation Sans',sans-serif;font-size:19.5px" fill="#111" textLength="22.0" lengthAdjust="spacingAndGlyphs"  stroke="#111" stroke-width="0.35">1.0</text>
<text x="481.6" y="122.1" text-anchor="end" style="font-family:'Liberation Sans',sans-serif;font-size:19.5px" fill="#111" textLength="22.0" lengthAdjust="spacingAndGlyphs"  stroke="#111" stroke-width="0.35">0.5</text>
<text x="482.6" y="227.0" text-anchor="end" style="font-family:'Liberation Sans',sans-serif;font-size:19.5px" fill="#111" textLength="22.0" lengthAdjust="spacingAndGlyphs"  stroke="#111" stroke-width="0.35">1.0</text>
<text x="481.6" y="265.9" text-anchor="end" style="font-family:'Liberation Sans',sans-serif;font-size:19.5px" fill="#111" textLength="22.0" lengthAdjust="spacingAndGlyphs"  stroke="#111" stroke-width="0.35">0.5</text>
<text x="482.6" y="371.0" text-anchor="end" style="font-family:'Liberation Sans',sans-serif;font-size:19.5px" fill="#111" textLength="22.0" lengthAdjust="spacingAndGlyphs"  stroke="#111" stroke-width="0.35">1.0</text>
<text x="481.6" y="409.9" text-anchor="end" style="font-family:'Liberation Sans',sans-serif;font-size:19.5px" fill="#111" textLength="22.0" lengthAdjust="spacingAndGlyphs"  stroke="#111" stroke-width="0.35">0.5</text>
<text x="481.6" y="162.2" text-anchor="end" style="font-family:'Liberation Sans',sans-serif;font-size:19.5px" fill="#111" textLength="9.0" lengthAdjust="spacingAndGlyphs"  stroke="#111" stroke-width="0.35">0</text>
<text x="481.6" y="306.0" text-anchor="end" style="font-family:'Liberation Sans',sans-serif;font-size:19.5px" fill="#111" textLength="9.0" lengthAdjust="spacingAndGlyphs"  stroke="#111" stroke-width="0.35">0</text>
<text x="481.2" y="451.2" text-anchor="end" style="font-family:'Liberation Sans',sans-serif;font-size:19.5px" fill="#111" textLength="8.6" lengthAdjust="spacingAndGlyphs"  stroke="#111" stroke-width="0.35">0</text>
<text x="486.8" y="462.8" text-anchor="middle" style="font-family:'Liberation Sans',sans-serif;font-size:19.5px" fill="#111" textLength="8.6" lengthAdjust="spacingAndGlyphs"  stroke="#111" stroke-width="0.35">0</text>
<text x="538.9" y="462.8" text-anchor="middle" style="font-family:'Liberation Sans',sans-serif;font-size:19.5px" fill="#111" textLength="21.6" lengthAdjust="spacingAndGlyphs"  stroke="#111" stroke-width="0.35">0.5</text>
<text x="594.0" y="462.8" text-anchor="middle" style="font-family:'Liberation Sans',sans-serif;font-size:19.5px" fill="#111" textLength="21.0" lengthAdjust="spacingAndGlyphs"  stroke="#111" stroke-width="0.35">1.0</text>
<text x="648.1" y="462.8" text-anchor="middle" style="font-family:'Liberation Sans',sans-serif;font-size:19.5px" fill="#111" textLength="21.6" lengthAdjust="spacingAndGlyphs"  stroke="#111" stroke-width="0.35">1.5</text>
<text transform="translate(558.2,481.9) scale(1.09,1)" style="font-family:'Liberation Sans',sans-serif;font-size:19.8px;font-style:italic" fill="#111" stroke="#111" stroke-width="0.35">H/H<tspan dy="6" font-size="16">c2</tspan></text>
<text transform="translate(444.9,86.9) rotate(-90) scale(1,0.84)" text-anchor="middle" style="font-family:'Liberation Sans',sans-serif;font-size:21px" fill="#111" textLength="122" lengthAdjust="spacingAndGlyphs" stroke="#111" stroke-width="0.35"><tspan font-style="italic">hf / gμ</tspan><tspan dy="7" font-size="16.5">0</tspan><tspan dy="-7" font-style="italic">μ</tspan><tspan dy="7" font-size="16.5">B</tspan><tspan dy="-7" font-style="italic">H</tspan><tspan dy="7" font-size="16.5">c2</tspan></text>
<text transform="translate(444.9,231.4) rotate(-90) scale(1,0.84)" text-anchor="middle" style="font-family:'Liberation Sans',sans-serif;font-size:21px" fill="#111" textLength="122" lengthAdjust="spacingAndGlyphs" stroke="#111" stroke-width="0.35"><tspan font-style="italic">hf / gμ</tspan><tspan dy="7" font-size="16.5">0</tspan><tspan dy="-7" font-style="italic">μ</tspan><tspan dy="7" font-size="16.5">B</tspan><tspan dy="-7" font-style="italic">H</tspan><tspan dy="7" font-size="16.5">c2</tspan></text>
<text transform="translate(444.9,378.2) rotate(-90) scale(1,0.84)" text-anchor="middle" style="font-family:'Liberation Sans',sans-serif;font-size:21px" fill="#111" textLength="122" lengthAdjust="spacingAndGlyphs" stroke="#111" stroke-width="0.35"><tspan font-style="italic">hf / gμ</tspan><tspan dy="7" font-size="16.5">0</tspan><tspan dy="-7" font-style="italic">μ</tspan><tspan dy="7" font-size="16.5">B</tspan><tspan dy="-7" font-style="italic">H</tspan><tspan dy="7" font-size="16.5">c2</tspan></text>
</svg></body></html>
